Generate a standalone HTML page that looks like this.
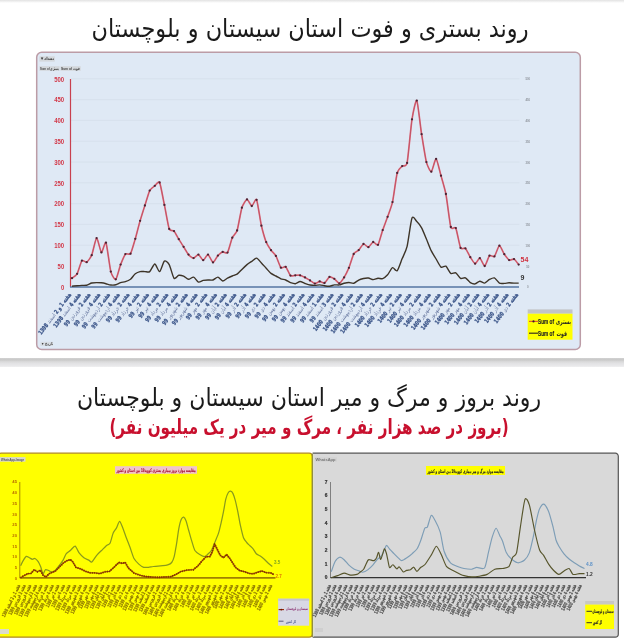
<!DOCTYPE html>
<html lang="fa"><head><meta charset="utf-8"><title>روند بستری و فوت استان سیستان و بلوچستان</title>
<style>
html,body{margin:0;padding:0;background:#fff;}
body{width:624px;height:640px;overflow:hidden;position:relative;}
.topbar{position:absolute;left:0;top:0;width:624px;height:3px;background:linear-gradient(#e2e2e2,#fff);}
.divider{position:absolute;left:0;top:358.4px;width:624px;height:8.8px;background:linear-gradient(#d2d2d2 0%,#c8c8c8 22%,#d6d6d6 34%,#e2e2e4 60%,#eaeaec 92%,#f4f4f4 100%);}
.t{position:absolute;left:0;width:624px;text-align:center;direction:rtl;white-space:nowrap;font-family:'DejaVu Sans',sans-serif;}
#t1{top:14px;left:-2px;font-size:25px;transform:scaleX(0.896);color:#1a1a1a;}
#t2{top:383px;left:-3px;font-size:24.5px;transform:scaleX(0.9);color:#1a1a1a;}
#t3{top:415px;left:-3px;font-size:20.5px;color:#c8102e;font-weight:bold;transform:scaleX(0.74);}
svg{position:absolute;left:0;top:0;}
</style></head>
<body>
<div class="topbar"></div>
<svg width="624" height="640" viewBox="0 0 624 640">
<rect x="36.7" y="52.2" width="543.6" height="297.3" rx="5" fill="#dfe9f5" stroke="#bc9ca6" stroke-width="1.5"/>
<line x1="71" x2="519.5" y1="266.0" y2="266.0" stroke="#d6e0ec" stroke-width="0.9"/>
<line x1="71" x2="519.5" y1="245.2" y2="245.2" stroke="#d6e0ec" stroke-width="0.9"/>
<line x1="71" x2="519.5" y1="224.4" y2="224.4" stroke="#d6e0ec" stroke-width="0.9"/>
<line x1="71" x2="519.5" y1="203.6" y2="203.6" stroke="#d6e0ec" stroke-width="0.9"/>
<line x1="71" x2="519.5" y1="182.8" y2="182.8" stroke="#d6e0ec" stroke-width="0.9"/>
<line x1="71" x2="519.5" y1="162.0" y2="162.0" stroke="#d6e0ec" stroke-width="0.9"/>
<line x1="71" x2="519.5" y1="141.2" y2="141.2" stroke="#d6e0ec" stroke-width="0.9"/>
<line x1="71" x2="519.5" y1="120.4" y2="120.4" stroke="#d6e0ec" stroke-width="0.9"/>
<line x1="71" x2="519.5" y1="99.6" y2="99.6" stroke="#d6e0ec" stroke-width="0.9"/>
<line x1="71" x2="519.5" y1="78.8" y2="78.8" stroke="#d6e0ec" stroke-width="0.9"/>
<rect x="39.4" y="56.3" width="15.4" height="5.3" fill="#d4d8dc"/>
<text x="40" y="60.4" font-family="'Liberation Sans',sans-serif" font-weight="bold" font-size="4.2" fill="#333">&#9660;</text>
<text x="54" y="60.4" direction="rtl" font-family="'DejaVu Sans',sans-serif" font-weight="bold" font-size="4.2" fill="#333" textLength="10" lengthAdjust="spacingAndGlyphs">تعداد</text>
<rect x="39.4" y="66.2" width="20.2" height="4.6" fill="#d4d8dc"/><rect x="60.5" y="66.2" width="20.2" height="4.6" fill="#d4d8dc"/>
<text x="40" y="69.9" font-family="'Liberation Sans',sans-serif" font-weight="bold" font-size="3.6" fill="#444" textLength="19" lengthAdjust="spacingAndGlyphs">Sum of بستری</text>
<text x="61" y="69.9" font-family="'Liberation Sans',sans-serif" font-weight="bold" font-size="3.6" fill="#444" textLength="19" lengthAdjust="spacingAndGlyphs">Sum of فوت</text>
<rect x="40.5" y="341.8" width="12.5" height="4.2" fill="#d8dde3"/>
<text x="41" y="345.2" font-family="'Liberation Sans',sans-serif" font-weight="bold" font-size="3.6" fill="#444" textLength="11.5" lengthAdjust="spacingAndGlyphs">&#9660; تاریخ</text>
<text x="64.2" y="289.5" font-family="'Liberation Sans',sans-serif" font-weight="bold" font-size="7.6" fill="#d23848" text-anchor="end" textLength="3.3" lengthAdjust="spacingAndGlyphs">0</text>
<text x="64.2" y="268.7" font-family="'Liberation Sans',sans-serif" font-weight="bold" font-size="7.6" fill="#d23848" text-anchor="end" textLength="6.6" lengthAdjust="spacingAndGlyphs">50</text>
<text x="64.2" y="247.9" font-family="'Liberation Sans',sans-serif" font-weight="bold" font-size="7.6" fill="#d23848" text-anchor="end" textLength="10.0" lengthAdjust="spacingAndGlyphs">100</text>
<text x="64.2" y="227.1" font-family="'Liberation Sans',sans-serif" font-weight="bold" font-size="7.6" fill="#d23848" text-anchor="end" textLength="10.0" lengthAdjust="spacingAndGlyphs">150</text>
<text x="64.2" y="206.3" font-family="'Liberation Sans',sans-serif" font-weight="bold" font-size="7.6" fill="#d23848" text-anchor="end" textLength="10.0" lengthAdjust="spacingAndGlyphs">200</text>
<text x="64.2" y="185.5" font-family="'Liberation Sans',sans-serif" font-weight="bold" font-size="7.6" fill="#d23848" text-anchor="end" textLength="10.0" lengthAdjust="spacingAndGlyphs">250</text>
<text x="64.2" y="164.7" font-family="'Liberation Sans',sans-serif" font-weight="bold" font-size="7.6" fill="#d23848" text-anchor="end" textLength="10.0" lengthAdjust="spacingAndGlyphs">300</text>
<text x="64.2" y="143.9" font-family="'Liberation Sans',sans-serif" font-weight="bold" font-size="7.6" fill="#d23848" text-anchor="end" textLength="10.0" lengthAdjust="spacingAndGlyphs">350</text>
<text x="64.2" y="123.1" font-family="'Liberation Sans',sans-serif" font-weight="bold" font-size="7.6" fill="#d23848" text-anchor="end" textLength="10.0" lengthAdjust="spacingAndGlyphs">400</text>
<text x="64.2" y="102.3" font-family="'Liberation Sans',sans-serif" font-weight="bold" font-size="7.6" fill="#d23848" text-anchor="end" textLength="10.0" lengthAdjust="spacingAndGlyphs">450</text>
<text x="64.2" y="81.5" font-family="'Liberation Sans',sans-serif" font-weight="bold" font-size="7.6" fill="#d23848" text-anchor="end" textLength="10.0" lengthAdjust="spacingAndGlyphs">500</text>
<text x="527.8" y="288.3" font-family="'Liberation Sans',sans-serif" font-weight="bold" font-size="4.2" fill="#8f949c" text-anchor="middle" textLength="1.6" lengthAdjust="spacingAndGlyphs">0</text>
<text x="527.8" y="267.5" font-family="'Liberation Sans',sans-serif" font-weight="bold" font-size="4.2" fill="#8f949c" text-anchor="middle" textLength="3.2" lengthAdjust="spacingAndGlyphs">50</text>
<text x="527.8" y="246.7" font-family="'Liberation Sans',sans-serif" font-weight="bold" font-size="4.2" fill="#8f949c" text-anchor="middle" textLength="4.6" lengthAdjust="spacingAndGlyphs">100</text>
<text x="527.8" y="225.9" font-family="'Liberation Sans',sans-serif" font-weight="bold" font-size="4.2" fill="#8f949c" text-anchor="middle" textLength="4.6" lengthAdjust="spacingAndGlyphs">150</text>
<text x="527.8" y="205.1" font-family="'Liberation Sans',sans-serif" font-weight="bold" font-size="4.2" fill="#8f949c" text-anchor="middle" textLength="4.6" lengthAdjust="spacingAndGlyphs">200</text>
<text x="527.8" y="184.3" font-family="'Liberation Sans',sans-serif" font-weight="bold" font-size="4.2" fill="#8f949c" text-anchor="middle" textLength="4.6" lengthAdjust="spacingAndGlyphs">250</text>
<text x="527.8" y="163.5" font-family="'Liberation Sans',sans-serif" font-weight="bold" font-size="4.2" fill="#8f949c" text-anchor="middle" textLength="4.6" lengthAdjust="spacingAndGlyphs">300</text>
<text x="527.8" y="142.7" font-family="'Liberation Sans',sans-serif" font-weight="bold" font-size="4.2" fill="#8f949c" text-anchor="middle" textLength="4.6" lengthAdjust="spacingAndGlyphs">350</text>
<text x="527.8" y="121.9" font-family="'Liberation Sans',sans-serif" font-weight="bold" font-size="4.2" fill="#8f949c" text-anchor="middle" textLength="4.6" lengthAdjust="spacingAndGlyphs">400</text>
<text x="527.8" y="101.1" font-family="'Liberation Sans',sans-serif" font-weight="bold" font-size="4.2" fill="#8f949c" text-anchor="middle" textLength="4.6" lengthAdjust="spacingAndGlyphs">450</text>
<text x="527.8" y="80.3" font-family="'Liberation Sans',sans-serif" font-weight="bold" font-size="4.2" fill="#8f949c" text-anchor="middle" textLength="4.6" lengthAdjust="spacingAndGlyphs">500</text>
<line x1="70.5" x2="70.5" y1="79" y2="287" stroke="#c8404e" stroke-width="1.2"/>
<line x1="70" x2="519" y1="287" y2="287" stroke="#5574a2" stroke-width="1.4"/>
<path d="M72.0 286.3 C72.6 286.2 75.9 285.9 77.1 285.8 C78.3 285.7 80.7 285.5 81.9 285.4 C83.1 285.3 85.5 285.5 86.7 285.2 C87.9 284.9 90.5 283.3 91.7 283.0 C92.9 282.7 95.4 282.6 96.6 282.6 C97.8 282.6 100.3 282.7 101.4 282.8 C102.5 282.9 104.9 283.4 106.0 283.7 C107.1 284.0 109.6 284.9 110.8 285.0 C112.0 285.1 114.6 285.1 115.8 284.8 C117.0 284.5 119.4 283.0 120.6 282.6 C121.8 282.2 124.2 282.1 125.4 281.7 C126.6 281.3 129.3 280.2 130.5 279.3 C131.7 278.4 134.1 274.7 135.3 273.8 C136.5 272.9 138.9 271.9 140.1 271.6 C141.3 271.3 143.7 271.6 144.9 271.6 C146.1 271.6 148.5 272.5 149.7 271.6 C150.9 270.7 153.6 264.0 154.8 264.0 C156.0 264.0 158.4 271.9 159.6 271.6 C160.8 271.3 163.2 261.9 164.4 261.1 C165.6 260.3 168.0 262.5 169.2 264.6 C170.4 266.7 172.8 276.9 174.0 278.2 C175.2 279.5 177.6 275.5 178.8 275.3 C180.0 275.1 182.4 275.7 183.6 276.2 C184.8 276.7 187.3 279.2 188.5 279.3 C189.7 279.4 192.4 276.8 193.6 277.1 C194.8 277.4 197.2 281.7 198.4 282.1 C199.6 282.5 202.0 280.7 203.2 280.4 C204.4 280.1 206.8 280.0 208.0 280.0 C209.2 280.0 211.8 280.3 213.0 280.0 C214.2 279.7 216.7 277.0 217.9 277.1 C219.1 277.2 221.5 280.9 222.7 281.0 C223.9 281.1 226.3 278.8 227.5 278.2 C228.7 277.6 231.1 276.5 232.3 276.0 C233.5 275.5 235.9 275.0 237.1 274.2 C238.3 273.4 240.7 270.6 241.9 269.4 C243.1 268.2 245.8 265.6 247.0 264.6 C248.2 263.6 250.6 262.1 251.8 261.3 C253.0 260.5 255.4 257.9 256.6 258.1 C257.8 258.3 260.2 261.7 261.4 262.9 C262.6 264.1 265.0 267.0 266.2 268.3 C267.4 269.6 269.8 272.5 271.0 273.4 C272.2 274.3 274.7 275.4 275.9 276.0 C277.1 276.6 279.7 278.3 280.9 278.8 C282.1 279.3 284.5 279.5 285.7 280.0 C286.9 280.5 289.3 282.2 290.5 282.6 C291.7 283.0 294.1 283.8 295.3 283.7 C296.5 283.6 298.9 281.5 300.1 281.5 C301.3 281.5 303.8 283.1 305.0 283.5 C306.2 283.9 308.8 284.8 310.0 285.0 C311.2 285.2 313.7 285.4 314.9 285.4 C316.1 285.4 318.5 284.9 319.7 284.9 C320.9 284.9 323.3 285.5 324.5 285.7 C325.7 285.9 328.3 286.3 329.5 286.2 C330.7 286.1 333.1 285.1 334.3 284.9 C335.5 284.7 338.1 285.1 339.3 284.9 C340.5 284.7 342.9 283.6 344.1 283.3 C345.3 283.0 347.7 282.5 348.9 282.5 C350.1 282.5 352.5 283.6 353.7 283.3 C354.9 283.0 357.5 280.7 358.7 280.1 C359.9 279.5 362.3 278.8 363.5 278.5 C364.7 278.2 367.2 277.9 368.4 278.0 C369.6 278.1 372.0 279.6 373.2 279.6 C374.4 279.6 376.9 278.3 378.0 278.2 C379.1 278.1 381.5 279.1 382.7 278.7 C383.9 278.3 386.4 276.1 387.6 274.8 C388.8 273.5 391.3 268.1 392.5 267.6 C393.7 267.1 396.0 271.8 397.2 270.7 C398.4 269.6 401.0 261.5 402.2 258.6 C403.4 255.7 405.9 251.3 407.1 246.4 C408.3 241.5 410.8 221.0 412.0 218.0 C413.2 215.0 415.6 220.4 416.8 221.6 C418.0 222.8 420.4 225.7 421.6 227.8 C422.8 229.9 425.2 236.2 426.4 239.0 C427.6 241.8 430.1 248.5 431.3 250.9 C432.5 253.3 434.9 257.1 436.1 259.0 C437.3 260.9 439.8 266.2 441.0 267.1 C442.2 268.0 444.7 265.4 445.9 266.2 C447.1 267.0 449.6 272.6 450.8 273.4 C452.0 274.2 454.6 272.2 455.8 272.8 C457.0 273.4 459.4 277.8 460.6 278.4 C461.8 279.0 464.2 277.3 465.4 277.8 C466.6 278.3 469.1 281.9 470.3 282.6 C471.5 283.3 474.0 284.1 475.1 283.9 C476.2 283.7 478.6 281.4 479.8 281.3 C481.0 281.2 483.5 283.3 484.7 283.1 C485.9 282.9 488.3 280.0 489.5 279.4 C490.7 278.8 493.2 277.5 494.4 277.9 C495.6 278.3 498.2 282.4 499.4 283.1 C500.6 283.8 503.1 283.4 504.3 283.4 C505.5 283.4 507.9 282.8 509.1 282.8 C510.3 282.8 512.8 283.1 514.0 283.1 C515.2 283.1 518.1 283.1 518.7 283.1" fill="none" stroke="#3d3428" stroke-width="1.4" stroke-linejoin="round"/>
<path d="M72.0 278.2 C72.5 277.8 76.1 275.6 77.1 273.8 C78.1 272.1 80.9 261.9 81.9 260.7 C82.9 259.5 85.7 262.8 86.7 262.2 C87.7 261.6 90.7 257.6 91.7 255.2 C92.7 252.8 95.6 238.4 96.6 238.1 C97.6 237.8 100.5 251.9 101.4 252.4 C102.3 252.9 105.1 240.8 106.0 242.7 C106.9 244.6 109.8 267.9 110.8 271.6 C111.8 275.3 114.8 280.0 115.8 279.3 C116.8 278.6 119.6 267.1 120.6 264.6 C121.6 262.1 124.4 255.2 125.4 254.1 C126.4 253.0 129.5 255.2 130.5 253.7 C131.5 252.2 134.3 242.1 135.3 238.8 C136.3 235.5 139.1 224.1 140.1 220.8 C141.1 217.5 143.9 208.5 144.9 205.5 C145.9 202.5 148.7 192.6 149.7 190.6 C150.7 188.6 153.8 186.6 154.8 185.8 C155.8 185.0 158.6 180.6 159.6 182.5 C160.6 184.4 163.4 200.3 164.4 204.9 C165.4 209.5 168.2 226.3 169.2 228.9 C170.2 231.5 173.0 230.1 174.0 231.1 C175.0 232.1 177.8 237.6 178.8 239.2 C179.8 240.8 182.6 245.3 183.6 246.8 C184.6 248.3 187.5 253.5 188.5 254.6 C189.5 255.7 192.6 258.1 193.6 258.1 C194.6 258.1 197.4 254.4 198.4 254.6 C199.4 254.8 202.2 260.2 203.2 260.2 C204.2 260.2 207.0 254.4 208.0 254.6 C209.0 254.8 212.0 262.3 213.0 262.4 C214.0 262.5 216.9 256.6 217.9 255.6 C218.9 254.6 221.7 252.2 222.7 251.9 C223.7 251.6 226.5 254.0 227.5 252.6 C228.5 251.2 231.3 239.9 232.3 237.7 C233.3 235.5 236.1 233.5 237.1 230.5 C238.1 227.5 240.9 210.8 241.9 207.7 C242.9 204.6 246.0 199.6 247.0 199.4 C248.0 199.2 250.8 206.0 251.8 206.0 C252.8 206.0 255.6 197.8 256.6 199.8 C257.6 201.8 260.4 221.5 261.4 225.7 C262.4 229.9 265.2 239.7 266.2 242.1 C267.2 244.5 270.0 248.8 271.0 250.2 C272.0 251.6 274.9 254.2 275.9 255.9 C276.9 257.6 279.9 266.6 280.9 267.7 C281.9 268.8 284.7 266.0 285.7 266.8 C286.7 267.6 289.5 274.8 290.5 275.6 C291.5 276.5 294.3 275.3 295.3 275.3 C296.3 275.3 299.1 275.1 300.1 275.3 C301.1 275.5 304.0 276.9 305.0 277.4 C306.0 277.9 309.0 279.8 310.0 280.4 C311.0 281.0 313.9 283.5 314.9 283.6 C315.9 283.7 318.7 281.5 319.7 281.4 C320.7 281.3 323.5 283.4 324.5 283.0 C325.5 282.6 328.5 277.3 329.5 276.9 C330.5 276.5 333.3 278.2 334.3 278.8 C335.3 279.4 338.3 283.4 339.3 283.3 C340.3 283.2 343.1 278.9 344.1 277.4 C345.1 275.8 347.9 270.1 348.9 267.8 C349.9 265.5 352.7 255.8 353.7 254.0 C354.7 252.2 357.7 251.1 358.7 250.1 C359.7 249.1 362.5 244.3 363.5 244.0 C364.5 243.7 367.4 247.4 368.4 247.2 C369.4 247.0 372.2 242.2 373.2 242.0 C374.2 241.8 377.1 246.0 378.0 244.8 C378.9 243.6 381.7 232.9 382.7 230.1 C383.7 227.3 386.6 219.6 387.6 216.8 C388.6 214.0 391.5 206.5 392.5 202.1 C393.5 197.7 396.2 176.5 397.2 172.9 C398.2 169.3 401.2 167.1 402.2 166.1 C403.2 165.1 406.1 167.6 407.1 162.9 C408.1 158.2 411.0 125.5 412.0 119.3 C413.0 113.1 415.8 99.1 416.8 100.6 C417.8 102.1 420.6 128.0 421.6 134.2 C422.6 140.3 425.4 158.3 426.4 162.1 C427.4 165.8 430.3 172.0 431.3 171.7 C432.3 171.4 435.1 158.5 436.1 158.9 C437.1 159.3 440.0 172.2 441.0 175.7 C442.0 179.2 444.9 188.9 445.9 194.0 C446.9 199.1 449.8 223.6 450.8 227.0 C451.8 230.4 454.8 226.0 455.8 228.1 C456.8 230.2 459.6 245.9 460.6 247.9 C461.6 249.9 464.4 247.5 465.4 248.4 C466.4 249.3 469.3 255.7 470.3 257.2 C471.3 258.7 474.2 263.6 475.1 263.7 C476.1 263.8 478.8 258.0 479.8 258.2 C480.8 258.4 483.7 266.2 484.7 266.0 C485.7 265.8 488.5 256.7 489.5 255.7 C490.5 254.7 493.4 257.4 494.4 256.4 C495.4 255.4 498.4 245.9 499.4 245.7 C500.4 245.5 503.3 252.8 504.3 254.2 C505.3 255.6 508.1 259.6 509.1 260.1 C510.1 260.6 513.0 258.7 514.0 259.1 C515.0 259.6 518.2 264.1 518.7 264.6" fill="none" stroke="#e4707f" stroke-width="1.7" stroke-linejoin="round"/>
<path d="M72.0 278.2 C72.5 277.8 76.1 275.6 77.1 273.8 C78.1 272.1 80.9 261.9 81.9 260.7 C82.9 259.5 85.7 262.8 86.7 262.2 C87.7 261.6 90.7 257.6 91.7 255.2 C92.7 252.8 95.6 238.4 96.6 238.1 C97.6 237.8 100.5 251.9 101.4 252.4 C102.3 252.9 105.1 240.8 106.0 242.7 C106.9 244.6 109.8 267.9 110.8 271.6 C111.8 275.3 114.8 280.0 115.8 279.3 C116.8 278.6 119.6 267.1 120.6 264.6 C121.6 262.1 124.4 255.2 125.4 254.1 C126.4 253.0 129.5 255.2 130.5 253.7 C131.5 252.2 134.3 242.1 135.3 238.8 C136.3 235.5 139.1 224.1 140.1 220.8 C141.1 217.5 143.9 208.5 144.9 205.5 C145.9 202.5 148.7 192.6 149.7 190.6 C150.7 188.6 153.8 186.6 154.8 185.8 C155.8 185.0 158.6 180.6 159.6 182.5 C160.6 184.4 163.4 200.3 164.4 204.9 C165.4 209.5 168.2 226.3 169.2 228.9 C170.2 231.5 173.0 230.1 174.0 231.1 C175.0 232.1 177.8 237.6 178.8 239.2 C179.8 240.8 182.6 245.3 183.6 246.8 C184.6 248.3 187.5 253.5 188.5 254.6 C189.5 255.7 192.6 258.1 193.6 258.1 C194.6 258.1 197.4 254.4 198.4 254.6 C199.4 254.8 202.2 260.2 203.2 260.2 C204.2 260.2 207.0 254.4 208.0 254.6 C209.0 254.8 212.0 262.3 213.0 262.4 C214.0 262.5 216.9 256.6 217.9 255.6 C218.9 254.6 221.7 252.2 222.7 251.9 C223.7 251.6 226.5 254.0 227.5 252.6 C228.5 251.2 231.3 239.9 232.3 237.7 C233.3 235.5 236.1 233.5 237.1 230.5 C238.1 227.5 240.9 210.8 241.9 207.7 C242.9 204.6 246.0 199.6 247.0 199.4 C248.0 199.2 250.8 206.0 251.8 206.0 C252.8 206.0 255.6 197.8 256.6 199.8 C257.6 201.8 260.4 221.5 261.4 225.7 C262.4 229.9 265.2 239.7 266.2 242.1 C267.2 244.5 270.0 248.8 271.0 250.2 C272.0 251.6 274.9 254.2 275.9 255.9 C276.9 257.6 279.9 266.6 280.9 267.7 C281.9 268.8 284.7 266.0 285.7 266.8 C286.7 267.6 289.5 274.8 290.5 275.6 C291.5 276.5 294.3 275.3 295.3 275.3 C296.3 275.3 299.1 275.1 300.1 275.3 C301.1 275.5 304.0 276.9 305.0 277.4 C306.0 277.9 309.0 279.8 310.0 280.4 C311.0 281.0 313.9 283.5 314.9 283.6 C315.9 283.7 318.7 281.5 319.7 281.4 C320.7 281.3 323.5 283.4 324.5 283.0 C325.5 282.6 328.5 277.3 329.5 276.9 C330.5 276.5 333.3 278.2 334.3 278.8 C335.3 279.4 338.3 283.4 339.3 283.3 C340.3 283.2 343.1 278.9 344.1 277.4 C345.1 275.8 347.9 270.1 348.9 267.8 C349.9 265.5 352.7 255.8 353.7 254.0 C354.7 252.2 357.7 251.1 358.7 250.1 C359.7 249.1 362.5 244.3 363.5 244.0 C364.5 243.7 367.4 247.4 368.4 247.2 C369.4 247.0 372.2 242.2 373.2 242.0 C374.2 241.8 377.1 246.0 378.0 244.8 C378.9 243.6 381.7 232.9 382.7 230.1 C383.7 227.3 386.6 219.6 387.6 216.8 C388.6 214.0 391.5 206.5 392.5 202.1 C393.5 197.7 396.2 176.5 397.2 172.9 C398.2 169.3 401.2 167.1 402.2 166.1 C403.2 165.1 406.1 167.6 407.1 162.9 C408.1 158.2 411.0 125.5 412.0 119.3 C413.0 113.1 415.8 99.1 416.8 100.6 C417.8 102.1 420.6 128.0 421.6 134.2 C422.6 140.3 425.4 158.3 426.4 162.1 C427.4 165.8 430.3 172.0 431.3 171.7 C432.3 171.4 435.1 158.5 436.1 158.9 C437.1 159.3 440.0 172.2 441.0 175.7 C442.0 179.2 444.9 188.9 445.9 194.0 C446.9 199.1 449.8 223.6 450.8 227.0 C451.8 230.4 454.8 226.0 455.8 228.1 C456.8 230.2 459.6 245.9 460.6 247.9 C461.6 249.9 464.4 247.5 465.4 248.4 C466.4 249.3 469.3 255.7 470.3 257.2 C471.3 258.7 474.2 263.6 475.1 263.7 C476.1 263.8 478.8 258.0 479.8 258.2 C480.8 258.4 483.7 266.2 484.7 266.0 C485.7 265.8 488.5 256.7 489.5 255.7 C490.5 254.7 493.4 257.4 494.4 256.4 C495.4 255.4 498.4 245.9 499.4 245.7 C500.4 245.5 503.3 252.8 504.3 254.2 C505.3 255.6 508.1 259.6 509.1 260.1 C510.1 260.6 513.0 258.7 514.0 259.1 C515.0 259.6 518.2 264.1 518.7 264.6" fill="none" stroke="#a03a50" stroke-width="0.55" stroke-linejoin="round"/>
<circle cx="72.0" cy="278.2" r="1.15" fill="#4a2434"/>
<circle cx="77.1" cy="273.8" r="1.15" fill="#4a2434"/>
<circle cx="81.9" cy="260.7" r="1.15" fill="#4a2434"/>
<circle cx="86.7" cy="262.2" r="1.15" fill="#4a2434"/>
<circle cx="91.7" cy="255.2" r="1.15" fill="#4a2434"/>
<circle cx="96.6" cy="238.1" r="1.15" fill="#4a2434"/>
<circle cx="101.4" cy="252.4" r="1.15" fill="#4a2434"/>
<circle cx="106.0" cy="242.7" r="1.15" fill="#4a2434"/>
<circle cx="110.8" cy="271.6" r="1.15" fill="#4a2434"/>
<circle cx="115.8" cy="279.3" r="1.15" fill="#4a2434"/>
<circle cx="120.6" cy="264.6" r="1.15" fill="#4a2434"/>
<circle cx="125.4" cy="254.1" r="1.15" fill="#4a2434"/>
<circle cx="130.5" cy="253.7" r="1.15" fill="#4a2434"/>
<circle cx="135.3" cy="238.8" r="1.15" fill="#4a2434"/>
<circle cx="140.1" cy="220.8" r="1.15" fill="#4a2434"/>
<circle cx="144.9" cy="205.5" r="1.15" fill="#4a2434"/>
<circle cx="149.7" cy="190.6" r="1.15" fill="#4a2434"/>
<circle cx="154.8" cy="185.8" r="1.15" fill="#4a2434"/>
<circle cx="159.6" cy="182.5" r="1.15" fill="#4a2434"/>
<circle cx="164.4" cy="204.9" r="1.15" fill="#4a2434"/>
<circle cx="169.2" cy="228.9" r="1.15" fill="#4a2434"/>
<circle cx="174.0" cy="231.1" r="1.15" fill="#4a2434"/>
<circle cx="178.8" cy="239.2" r="1.15" fill="#4a2434"/>
<circle cx="183.6" cy="246.8" r="1.15" fill="#4a2434"/>
<circle cx="188.5" cy="254.6" r="1.15" fill="#4a2434"/>
<circle cx="193.6" cy="258.1" r="1.15" fill="#4a2434"/>
<circle cx="198.4" cy="254.6" r="1.15" fill="#4a2434"/>
<circle cx="203.2" cy="260.2" r="1.15" fill="#4a2434"/>
<circle cx="208.0" cy="254.6" r="1.15" fill="#4a2434"/>
<circle cx="213.0" cy="262.4" r="1.15" fill="#4a2434"/>
<circle cx="217.9" cy="255.6" r="1.15" fill="#4a2434"/>
<circle cx="222.7" cy="251.9" r="1.15" fill="#4a2434"/>
<circle cx="227.5" cy="252.6" r="1.15" fill="#4a2434"/>
<circle cx="232.3" cy="237.7" r="1.15" fill="#4a2434"/>
<circle cx="237.1" cy="230.5" r="1.15" fill="#4a2434"/>
<circle cx="241.9" cy="207.7" r="1.15" fill="#4a2434"/>
<circle cx="247.0" cy="199.4" r="1.15" fill="#4a2434"/>
<circle cx="251.8" cy="206.0" r="1.15" fill="#4a2434"/>
<circle cx="256.6" cy="199.8" r="1.15" fill="#4a2434"/>
<circle cx="261.4" cy="225.7" r="1.15" fill="#4a2434"/>
<circle cx="266.2" cy="242.1" r="1.15" fill="#4a2434"/>
<circle cx="271.0" cy="250.2" r="1.15" fill="#4a2434"/>
<circle cx="275.9" cy="255.9" r="1.15" fill="#4a2434"/>
<circle cx="280.9" cy="267.7" r="1.15" fill="#4a2434"/>
<circle cx="285.7" cy="266.8" r="1.15" fill="#4a2434"/>
<circle cx="290.5" cy="275.6" r="1.15" fill="#4a2434"/>
<circle cx="295.3" cy="275.3" r="1.15" fill="#4a2434"/>
<circle cx="300.1" cy="275.3" r="1.15" fill="#4a2434"/>
<circle cx="305.0" cy="277.4" r="1.15" fill="#4a2434"/>
<circle cx="310.0" cy="280.4" r="1.15" fill="#4a2434"/>
<circle cx="314.9" cy="283.6" r="1.15" fill="#4a2434"/>
<circle cx="319.7" cy="281.4" r="1.15" fill="#4a2434"/>
<circle cx="324.5" cy="283.0" r="1.15" fill="#4a2434"/>
<circle cx="329.5" cy="276.9" r="1.15" fill="#4a2434"/>
<circle cx="334.3" cy="278.8" r="1.15" fill="#4a2434"/>
<circle cx="339.3" cy="283.3" r="1.15" fill="#4a2434"/>
<circle cx="344.1" cy="277.4" r="1.15" fill="#4a2434"/>
<circle cx="348.9" cy="267.8" r="1.15" fill="#4a2434"/>
<circle cx="353.7" cy="254.0" r="1.15" fill="#4a2434"/>
<circle cx="358.7" cy="250.1" r="1.15" fill="#4a2434"/>
<circle cx="363.5" cy="244.0" r="1.15" fill="#4a2434"/>
<circle cx="368.4" cy="247.2" r="1.15" fill="#4a2434"/>
<circle cx="373.2" cy="242.0" r="1.15" fill="#4a2434"/>
<circle cx="378.0" cy="244.8" r="1.15" fill="#4a2434"/>
<circle cx="382.7" cy="230.1" r="1.15" fill="#4a2434"/>
<circle cx="387.6" cy="216.8" r="1.15" fill="#4a2434"/>
<circle cx="392.5" cy="202.1" r="1.15" fill="#4a2434"/>
<circle cx="397.2" cy="172.9" r="1.15" fill="#4a2434"/>
<circle cx="402.2" cy="166.1" r="1.15" fill="#4a2434"/>
<circle cx="407.1" cy="162.9" r="1.15" fill="#4a2434"/>
<circle cx="412.0" cy="119.3" r="1.15" fill="#4a2434"/>
<circle cx="416.8" cy="100.6" r="1.15" fill="#4a2434"/>
<circle cx="421.6" cy="134.2" r="1.15" fill="#4a2434"/>
<circle cx="426.4" cy="162.1" r="1.15" fill="#4a2434"/>
<circle cx="431.3" cy="171.7" r="1.15" fill="#4a2434"/>
<circle cx="436.1" cy="158.9" r="1.15" fill="#4a2434"/>
<circle cx="441.0" cy="175.7" r="1.15" fill="#4a2434"/>
<circle cx="445.9" cy="194.0" r="1.15" fill="#4a2434"/>
<circle cx="450.8" cy="227.0" r="1.15" fill="#4a2434"/>
<circle cx="455.8" cy="228.1" r="1.15" fill="#4a2434"/>
<circle cx="460.6" cy="247.9" r="1.15" fill="#4a2434"/>
<circle cx="465.4" cy="248.4" r="1.15" fill="#4a2434"/>
<circle cx="470.3" cy="257.2" r="1.15" fill="#4a2434"/>
<circle cx="475.1" cy="263.7" r="1.15" fill="#4a2434"/>
<circle cx="479.8" cy="258.2" r="1.15" fill="#4a2434"/>
<circle cx="484.7" cy="266.0" r="1.15" fill="#4a2434"/>
<circle cx="489.5" cy="255.7" r="1.15" fill="#4a2434"/>
<circle cx="494.4" cy="256.4" r="1.15" fill="#4a2434"/>
<circle cx="499.4" cy="245.7" r="1.15" fill="#4a2434"/>
<circle cx="504.3" cy="254.2" r="1.15" fill="#4a2434"/>
<circle cx="509.1" cy="260.1" r="1.15" fill="#4a2434"/>
<circle cx="514.0" cy="259.1" r="1.15" fill="#4a2434"/>
<circle cx="518.7" cy="264.6" r="1.15" fill="#4a2434"/>
<text x="520.5" y="262" font-family="'Liberation Sans',sans-serif" font-weight="bold" font-size="7" fill="#d0303e">54</text>
<text x="520.5" y="279.5" font-family="'Liberation Sans',sans-serif" font-weight="bold" font-size="7" fill="#333">9</text>
<text transform="translate(71.5 294.8) rotate(-53) scale(0.75 1)" direction="rtl" font-family="'DejaVu Sans',sans-serif" font-weight="bold" font-size="5.9" fill="#3a5488" stroke="#3a5488" stroke-width="0.3">هفته 1 و 2 <tspan font-weight="normal" stroke="none" fill="#6878a0">اسفند</tspan> 1398</text>
<text transform="translate(81.2 294.8) rotate(-53) scale(0.75 1)" direction="rtl" font-family="'DejaVu Sans',sans-serif" font-weight="bold" font-size="5.9" fill="#3a5488" stroke="#3a5488" stroke-width="0.3">هفته 4 <tspan font-weight="normal" stroke="none" fill="#6878a0">اسفند</tspan> 1398</text>
<text transform="translate(90.9 294.8) rotate(-53) scale(0.75 1)" direction="rtl" font-family="'DejaVu Sans',sans-serif" font-weight="bold" font-size="5.9" fill="#3a5488" stroke="#3a5488" stroke-width="0.3">هفته 2 <tspan font-weight="normal" stroke="none" fill="#6878a0">فروردین</tspan> 99</text>
<text transform="translate(100.7 294.8) rotate(-53) scale(0.75 1)" direction="rtl" font-family="'DejaVu Sans',sans-serif" font-weight="bold" font-size="5.9" fill="#3a5488" stroke="#3a5488" stroke-width="0.3">هفته 4 <tspan font-weight="normal" stroke="none" fill="#6878a0">فروردین</tspan> 99</text>
<text transform="translate(110.4 294.8) rotate(-53) scale(0.75 1)" direction="rtl" font-family="'DejaVu Sans',sans-serif" font-weight="bold" font-size="5.9" fill="#3a5488" stroke="#3a5488" stroke-width="0.3">هفته 2 <tspan font-weight="normal" stroke="none" fill="#6878a0">اردیبهشت</tspan> 99</text>
<text transform="translate(120.1 294.8) rotate(-53) scale(0.75 1)" direction="rtl" font-family="'DejaVu Sans',sans-serif" font-weight="bold" font-size="5.9" fill="#3a5488" stroke="#3a5488" stroke-width="0.3">هفته 4 <tspan font-weight="normal" stroke="none" fill="#6878a0">اردیبهشت</tspan> 99</text>
<text transform="translate(129.8 294.8) rotate(-53) scale(0.75 1)" direction="rtl" font-family="'DejaVu Sans',sans-serif" font-weight="bold" font-size="5.9" fill="#3a5488" stroke="#3a5488" stroke-width="0.3">هفته 2 <tspan font-weight="normal" stroke="none" fill="#6878a0">خرداد</tspan> 99</text>
<text transform="translate(139.5 294.8) rotate(-53) scale(0.75 1)" direction="rtl" font-family="'DejaVu Sans',sans-serif" font-weight="bold" font-size="5.9" fill="#3a5488" stroke="#3a5488" stroke-width="0.3">هفته 4 <tspan font-weight="normal" stroke="none" fill="#6878a0">خرداد</tspan> 99</text>
<text transform="translate(149.3 294.8) rotate(-53) scale(0.75 1)" direction="rtl" font-family="'DejaVu Sans',sans-serif" font-weight="bold" font-size="5.9" fill="#3a5488" stroke="#3a5488" stroke-width="0.3">هفته 2 <tspan font-weight="normal" stroke="none" fill="#6878a0">تیر</tspan> 99</text>
<text transform="translate(159.0 294.8) rotate(-53) scale(0.75 1)" direction="rtl" font-family="'DejaVu Sans',sans-serif" font-weight="bold" font-size="5.9" fill="#3a5488" stroke="#3a5488" stroke-width="0.3">هفته 4 <tspan font-weight="normal" stroke="none" fill="#6878a0">تیر</tspan> 99</text>
<text transform="translate(168.7 294.8) rotate(-53) scale(0.75 1)" direction="rtl" font-family="'DejaVu Sans',sans-serif" font-weight="bold" font-size="5.9" fill="#3a5488" stroke="#3a5488" stroke-width="0.3">هفته 2 <tspan font-weight="normal" stroke="none" fill="#6878a0">مرداد</tspan> 99</text>
<text transform="translate(178.4 294.8) rotate(-53) scale(0.75 1)" direction="rtl" font-family="'DejaVu Sans',sans-serif" font-weight="bold" font-size="5.9" fill="#3a5488" stroke="#3a5488" stroke-width="0.3">هفته 4 <tspan font-weight="normal" stroke="none" fill="#6878a0">مرداد</tspan> 99</text>
<text transform="translate(188.1 294.8) rotate(-53) scale(0.75 1)" direction="rtl" font-family="'DejaVu Sans',sans-serif" font-weight="bold" font-size="5.9" fill="#3a5488" stroke="#3a5488" stroke-width="0.3">هفته 2 <tspan font-weight="normal" stroke="none" fill="#6878a0">شهریور</tspan> 99</text>
<text transform="translate(197.9 294.8) rotate(-53) scale(0.75 1)" direction="rtl" font-family="'DejaVu Sans',sans-serif" font-weight="bold" font-size="5.9" fill="#3a5488" stroke="#3a5488" stroke-width="0.3">هفته 4 <tspan font-weight="normal" stroke="none" fill="#6878a0">شهریور</tspan> 99</text>
<text transform="translate(207.6 294.8) rotate(-53) scale(0.75 1)" direction="rtl" font-family="'DejaVu Sans',sans-serif" font-weight="bold" font-size="5.9" fill="#3a5488" stroke="#3a5488" stroke-width="0.3">هفته 2 <tspan font-weight="normal" stroke="none" fill="#6878a0">مهر</tspan> 99</text>
<text transform="translate(217.3 294.8) rotate(-53) scale(0.75 1)" direction="rtl" font-family="'DejaVu Sans',sans-serif" font-weight="bold" font-size="5.9" fill="#3a5488" stroke="#3a5488" stroke-width="0.3">هفته 4 <tspan font-weight="normal" stroke="none" fill="#6878a0">مهر</tspan> 99</text>
<text transform="translate(227.0 294.8) rotate(-53) scale(0.75 1)" direction="rtl" font-family="'DejaVu Sans',sans-serif" font-weight="bold" font-size="5.9" fill="#3a5488" stroke="#3a5488" stroke-width="0.3">هفته 2 <tspan font-weight="normal" stroke="none" fill="#6878a0">آبان</tspan> 99</text>
<text transform="translate(236.7 294.8) rotate(-53) scale(0.75 1)" direction="rtl" font-family="'DejaVu Sans',sans-serif" font-weight="bold" font-size="5.9" fill="#3a5488" stroke="#3a5488" stroke-width="0.3">هفته 4 <tspan font-weight="normal" stroke="none" fill="#6878a0">آبان</tspan> 99</text>
<text transform="translate(246.5 294.8) rotate(-53) scale(0.75 1)" direction="rtl" font-family="'DejaVu Sans',sans-serif" font-weight="bold" font-size="5.9" fill="#3a5488" stroke="#3a5488" stroke-width="0.3">هفته 2 <tspan font-weight="normal" stroke="none" fill="#6878a0">آذر</tspan> 99</text>
<text transform="translate(256.2 294.8) rotate(-53) scale(0.75 1)" direction="rtl" font-family="'DejaVu Sans',sans-serif" font-weight="bold" font-size="5.9" fill="#3a5488" stroke="#3a5488" stroke-width="0.3">هفته 4 <tspan font-weight="normal" stroke="none" fill="#6878a0">آذر</tspan> 99</text>
<text transform="translate(265.9 294.8) rotate(-53) scale(0.75 1)" direction="rtl" font-family="'DejaVu Sans',sans-serif" font-weight="bold" font-size="5.9" fill="#3a5488" stroke="#3a5488" stroke-width="0.3">هفته 2 <tspan font-weight="normal" stroke="none" fill="#6878a0">دی</tspan> 99</text>
<text transform="translate(275.6 294.8) rotate(-53) scale(0.75 1)" direction="rtl" font-family="'DejaVu Sans',sans-serif" font-weight="bold" font-size="5.9" fill="#3a5488" stroke="#3a5488" stroke-width="0.3">هفته 4 <tspan font-weight="normal" stroke="none" fill="#6878a0">دی</tspan> 99</text>
<text transform="translate(285.3 294.8) rotate(-53) scale(0.75 1)" direction="rtl" font-family="'DejaVu Sans',sans-serif" font-weight="bold" font-size="5.9" fill="#3a5488" stroke="#3a5488" stroke-width="0.3">هفته 2 <tspan font-weight="normal" stroke="none" fill="#6878a0">بهمن</tspan> 99</text>
<text transform="translate(295.1 294.8) rotate(-53) scale(0.75 1)" direction="rtl" font-family="'DejaVu Sans',sans-serif" font-weight="bold" font-size="5.9" fill="#3a5488" stroke="#3a5488" stroke-width="0.3">هفته 4 <tspan font-weight="normal" stroke="none" fill="#6878a0">بهمن</tspan> 99</text>
<text transform="translate(304.8 294.8) rotate(-53) scale(0.75 1)" direction="rtl" font-family="'DejaVu Sans',sans-serif" font-weight="bold" font-size="5.9" fill="#3a5488" stroke="#3a5488" stroke-width="0.3">هفته 2 <tspan font-weight="normal" stroke="none" fill="#6878a0">اسفند</tspan> 99</text>
<text transform="translate(314.5 294.8) rotate(-53) scale(0.75 1)" direction="rtl" font-family="'DejaVu Sans',sans-serif" font-weight="bold" font-size="5.9" fill="#3a5488" stroke="#3a5488" stroke-width="0.3">هفته 4 <tspan font-weight="normal" stroke="none" fill="#6878a0">اسفند</tspan> 99</text>
<text transform="translate(324.2 294.8) rotate(-53) scale(0.75 1)" direction="rtl" font-family="'DejaVu Sans',sans-serif" font-weight="bold" font-size="5.9" fill="#3a5488" stroke="#3a5488" stroke-width="0.3">هفته 1 <tspan font-weight="normal" stroke="none" fill="#6878a0">اسفند</tspan> 99</text>
<text transform="translate(333.9 294.8) rotate(-53) scale(0.75 1)" direction="rtl" font-family="'DejaVu Sans',sans-serif" font-weight="bold" font-size="5.9" fill="#3a5488" stroke="#3a5488" stroke-width="0.3">هفته 3 <tspan font-weight="normal" stroke="none" fill="#6878a0">اسفند</tspan> 99</text>
<text transform="translate(343.7 294.8) rotate(-53) scale(0.75 1)" direction="rtl" font-family="'DejaVu Sans',sans-serif" font-weight="bold" font-size="5.9" fill="#3a5488" stroke="#3a5488" stroke-width="0.3">هفته 2 <tspan font-weight="normal" stroke="none" fill="#6878a0">فروردین</tspan> 1400</text>
<text transform="translate(353.4 294.8) rotate(-53) scale(0.75 1)" direction="rtl" font-family="'DejaVu Sans',sans-serif" font-weight="bold" font-size="5.9" fill="#3a5488" stroke="#3a5488" stroke-width="0.3">هفته 4 <tspan font-weight="normal" stroke="none" fill="#6878a0">فروردین</tspan> 1400</text>
<text transform="translate(363.1 294.8) rotate(-53) scale(0.75 1)" direction="rtl" font-family="'DejaVu Sans',sans-serif" font-weight="bold" font-size="5.9" fill="#3a5488" stroke="#3a5488" stroke-width="0.3">هفته 2 <tspan font-weight="normal" stroke="none" fill="#6878a0">اردیبهشت</tspan> 1400</text>
<text transform="translate(372.8 294.8) rotate(-53) scale(0.75 1)" direction="rtl" font-family="'DejaVu Sans',sans-serif" font-weight="bold" font-size="5.9" fill="#3a5488" stroke="#3a5488" stroke-width="0.3">هفته 4 <tspan font-weight="normal" stroke="none" fill="#6878a0">اردیبهشت</tspan> 1400</text>
<text transform="translate(382.5 294.8) rotate(-53) scale(0.75 1)" direction="rtl" font-family="'DejaVu Sans',sans-serif" font-weight="bold" font-size="5.9" fill="#3a5488" stroke="#3a5488" stroke-width="0.3">هفته 2 <tspan font-weight="normal" stroke="none" fill="#6878a0">خرداد</tspan> 1400</text>
<text transform="translate(392.3 294.8) rotate(-53) scale(0.75 1)" direction="rtl" font-family="'DejaVu Sans',sans-serif" font-weight="bold" font-size="5.9" fill="#3a5488" stroke="#3a5488" stroke-width="0.3">هفته 4 <tspan font-weight="normal" stroke="none" fill="#6878a0">خرداد</tspan> 1400</text>
<text transform="translate(402.0 294.8) rotate(-53) scale(0.75 1)" direction="rtl" font-family="'DejaVu Sans',sans-serif" font-weight="bold" font-size="5.9" fill="#3a5488" stroke="#3a5488" stroke-width="0.3">هفته 2 <tspan font-weight="normal" stroke="none" fill="#6878a0">تیر</tspan> 1400</text>
<text transform="translate(411.7 294.8) rotate(-53) scale(0.75 1)" direction="rtl" font-family="'DejaVu Sans',sans-serif" font-weight="bold" font-size="5.9" fill="#3a5488" stroke="#3a5488" stroke-width="0.3">هفته 4 <tspan font-weight="normal" stroke="none" fill="#6878a0">تیر</tspan> 1400</text>
<text transform="translate(421.4 294.8) rotate(-53) scale(0.75 1)" direction="rtl" font-family="'DejaVu Sans',sans-serif" font-weight="bold" font-size="5.9" fill="#3a5488" stroke="#3a5488" stroke-width="0.3">هفته 2 <tspan font-weight="normal" stroke="none" fill="#6878a0">مرداد</tspan> 1400</text>
<text transform="translate(431.1 294.8) rotate(-53) scale(0.75 1)" direction="rtl" font-family="'DejaVu Sans',sans-serif" font-weight="bold" font-size="5.9" fill="#3a5488" stroke="#3a5488" stroke-width="0.3">هفته 4 <tspan font-weight="normal" stroke="none" fill="#6878a0">مرداد</tspan> 1400</text>
<text transform="translate(440.9 294.8) rotate(-53) scale(0.75 1)" direction="rtl" font-family="'DejaVu Sans',sans-serif" font-weight="bold" font-size="5.9" fill="#3a5488" stroke="#3a5488" stroke-width="0.3">هفته 2 <tspan font-weight="normal" stroke="none" fill="#6878a0">شهریور</tspan> 1400</text>
<text transform="translate(450.6 294.8) rotate(-53) scale(0.75 1)" direction="rtl" font-family="'DejaVu Sans',sans-serif" font-weight="bold" font-size="5.9" fill="#3a5488" stroke="#3a5488" stroke-width="0.3">هفته 4 <tspan font-weight="normal" stroke="none" fill="#6878a0">شهریور</tspan> 1400</text>
<text transform="translate(460.3 294.8) rotate(-53) scale(0.75 1)" direction="rtl" font-family="'DejaVu Sans',sans-serif" font-weight="bold" font-size="5.9" fill="#3a5488" stroke="#3a5488" stroke-width="0.3">هفته 2 <tspan font-weight="normal" stroke="none" fill="#6878a0">مهر</tspan> 1400</text>
<text transform="translate(470.0 294.8) rotate(-53) scale(0.75 1)" direction="rtl" font-family="'DejaVu Sans',sans-serif" font-weight="bold" font-size="5.9" fill="#3a5488" stroke="#3a5488" stroke-width="0.3">هفته 4 <tspan font-weight="normal" stroke="none" fill="#6878a0">مهر</tspan> 1400</text>
<text transform="translate(479.7 294.8) rotate(-53) scale(0.75 1)" direction="rtl" font-family="'DejaVu Sans',sans-serif" font-weight="bold" font-size="5.9" fill="#3a5488" stroke="#3a5488" stroke-width="0.3">هفته 2 <tspan font-weight="normal" stroke="none" fill="#6878a0">آبان</tspan> 1400</text>
<text transform="translate(489.5 294.8) rotate(-53) scale(0.75 1)" direction="rtl" font-family="'DejaVu Sans',sans-serif" font-weight="bold" font-size="5.9" fill="#3a5488" stroke="#3a5488" stroke-width="0.3">هفته 4 <tspan font-weight="normal" stroke="none" fill="#6878a0">آبان</tspan> 1400</text>
<text transform="translate(499.2 294.8) rotate(-53) scale(0.75 1)" direction="rtl" font-family="'DejaVu Sans',sans-serif" font-weight="bold" font-size="5.9" fill="#3a5488" stroke="#3a5488" stroke-width="0.3">هفته 2 <tspan font-weight="normal" stroke="none" fill="#6878a0">آذر</tspan> 1400</text>
<text transform="translate(508.9 294.8) rotate(-53) scale(0.75 1)" direction="rtl" font-family="'DejaVu Sans',sans-serif" font-weight="bold" font-size="5.9" fill="#3a5488" stroke="#3a5488" stroke-width="0.3">هفته 4 <tspan font-weight="normal" stroke="none" fill="#6878a0">آذر</tspan> 1400</text>
<text transform="translate(518.6 294.8) rotate(-53) scale(0.75 1)" direction="rtl" font-family="'DejaVu Sans',sans-serif" font-weight="bold" font-size="5.9" fill="#3a5488" stroke="#3a5488" stroke-width="0.3">هفته 2 <tspan font-weight="normal" stroke="none" fill="#6878a0">دی</tspan> 1400</text>
<rect x="527.7" y="309.4" width="44.8" height="4.3" fill="#c2c4c6"/>
<rect x="527.7" y="313.7" width="44.8" height="26" fill="#ffff00"/>
<line x1="529" x2="538" y1="321.4" y2="321.4" stroke="#e05a30" stroke-width="1.2"/><circle cx="533.5" cy="321.4" r="1.1" fill="#3a1a2a"/>
<line x1="529" x2="538" y1="333.2" y2="333.2" stroke="#3a3020" stroke-width="1.2"/>
<text x="538" y="323.9" font-family="'Liberation Sans',sans-serif" font-weight="bold" font-size="7" fill="#222" stroke="#222" stroke-width="0.15" textLength="16" lengthAdjust="spacingAndGlyphs">Sum of</text>
<text x="571" y="323.9" font-family="'DejaVu Sans',sans-serif" font-weight="bold" font-size="7" fill="#222" text-anchor="end" textLength="15" lengthAdjust="spacingAndGlyphs">بستری</text>
<text x="538" y="335.7" font-family="'Liberation Sans',sans-serif" font-weight="bold" font-size="7" fill="#222" stroke="#222" stroke-width="0.15" textLength="16" lengthAdjust="spacingAndGlyphs">Sum of</text>
<text x="567" y="335.7" font-family="'DejaVu Sans',sans-serif" font-weight="bold" font-size="7" fill="#222" text-anchor="end" textLength="10.5" lengthAdjust="spacingAndGlyphs">فوت</text>
<rect x="-2" y="453.2" width="314.2" height="184" rx="3" fill="#ffff00" stroke="#b08a20" stroke-width="1.2"/>
<rect x="0" y="457.1" width="25.5" height="4.6" fill="#d8d8cc"/>
<text x="1" y="460.7" font-family="'Liberation Sans',sans-serif" font-weight="bold" font-size="3.6" fill="#555" textLength="23" lengthAdjust="spacingAndGlyphs">WhatsApp-Image</text>
<rect x="0" y="629" width="9" height="5" fill="#dcdcc8"/>
<rect x="115" y="466.2" width="82" height="7.6" fill="#f0c4cc"/>
<text x="195.5" y="472.3" direction="rtl" font-family="'DejaVu Sans',sans-serif" font-weight="bold" font-size="5" fill="#a81838" stroke="#a81838" stroke-width="0.15" textLength="79" lengthAdjust="spacingAndGlyphs">مقایسه موارد بروز بیماری بستری کووید19 بین استان و کشور</text>
<text x="17" y="579.6" font-family="'Liberation Sans',sans-serif" font-weight="bold" font-size="4.2" fill="#b86a00" text-anchor="end">0</text>
<text x="17" y="568.9" font-family="'Liberation Sans',sans-serif" font-weight="bold" font-size="4.2" fill="#b86a00" text-anchor="end">5</text>
<text x="17" y="558.2" font-family="'Liberation Sans',sans-serif" font-weight="bold" font-size="4.2" fill="#b86a00" text-anchor="end">10</text>
<text x="17" y="547.5" font-family="'Liberation Sans',sans-serif" font-weight="bold" font-size="4.2" fill="#b86a00" text-anchor="end">15</text>
<text x="17" y="536.8" font-family="'Liberation Sans',sans-serif" font-weight="bold" font-size="4.2" fill="#b86a00" text-anchor="end">20</text>
<text x="17" y="526.1" font-family="'Liberation Sans',sans-serif" font-weight="bold" font-size="4.2" fill="#b86a00" text-anchor="end">25</text>
<text x="17" y="515.5" font-family="'Liberation Sans',sans-serif" font-weight="bold" font-size="4.2" fill="#b86a00" text-anchor="end">30</text>
<text x="17" y="504.8" font-family="'Liberation Sans',sans-serif" font-weight="bold" font-size="4.2" fill="#b86a00" text-anchor="end">35</text>
<text x="17" y="494.1" font-family="'Liberation Sans',sans-serif" font-weight="bold" font-size="4.2" fill="#b86a00" text-anchor="end">40</text>
<text x="17" y="483.4" font-family="'Liberation Sans',sans-serif" font-weight="bold" font-size="4.2" fill="#b86a00" text-anchor="end">45</text>
<line x1="19.8" x2="19.8" y1="482" y2="578" stroke="#a08000" stroke-width="0.9"/>
<line x1="19.8" x2="275.5" y1="577.9" y2="577.9" stroke="#a08000" stroke-width="1.6"/>
<path d="M20.6 565.7 C20.9 565.1 22.3 562.0 23.0 560.9 C23.7 559.8 25.4 556.8 26.2 556.4 C27.0 556.0 28.7 557.4 29.4 557.7 C30.1 558.0 31.6 559.2 32.3 559.3 C33.0 559.4 34.3 558.2 35.0 558.5 C35.7 558.8 37.5 560.7 38.2 561.7 C38.9 562.7 40.0 565.1 40.6 566.5 C41.2 567.9 42.4 573.3 43.0 573.7 C43.6 574.1 44.7 570.1 45.4 569.7 C46.1 569.3 47.9 570.2 48.7 570.5 C49.5 570.8 51.1 572.1 51.9 572.1 C52.7 572.1 54.2 571.3 55.1 570.5 C56.0 569.7 58.1 566.9 59.1 565.7 C60.1 564.5 62.2 561.5 63.1 560.1 C64.0 558.7 65.4 554.9 66.3 553.7 C67.2 552.5 69.2 551.4 70.3 550.5 C71.4 549.6 74.0 545.9 75.1 546.2 C76.2 546.5 78.0 551.5 79.1 552.9 C80.2 554.3 82.7 556.8 83.9 557.7 C85.1 558.6 87.7 559.6 88.7 560.1 C89.7 560.6 90.9 562.6 91.9 562.0 C92.9 561.4 95.5 556.7 96.7 555.3 C97.9 553.9 100.3 551.7 101.5 550.5 C102.7 549.3 105.3 546.6 106.3 545.7 C107.3 544.8 109.2 544.8 110.0 543.3 C110.8 541.8 112.4 534.7 113.2 532.9 C114.0 531.1 115.6 529.5 116.4 528.1 C117.2 526.7 118.8 521.3 119.6 521.3 C120.4 521.3 122.0 526.2 122.8 528.1 C123.6 530.0 125.1 534.6 126.0 536.9 C126.9 539.2 129.0 544.7 130.0 547.3 C131.0 549.9 132.9 556.5 134.0 558.5 C135.1 560.5 137.6 563.0 138.8 564.1 C140.0 565.2 142.5 566.9 143.7 567.3 C144.9 567.7 147.3 567.4 148.5 567.3 C149.7 567.2 152.1 566.6 153.3 566.5 C154.5 566.4 156.9 566.2 158.1 566.1 C159.3 566.0 161.7 565.8 162.9 565.7 C164.1 565.6 166.6 565.3 167.7 564.9 C168.8 564.5 170.9 563.5 171.7 562.5 C172.5 561.5 173.5 559.1 174.1 556.9 C174.7 554.7 175.9 547.6 176.5 544.1 C177.1 540.6 178.3 531.1 178.9 528.1 C179.5 525.1 180.7 520.6 181.3 519.3 C181.9 518.0 183.1 517.0 183.7 517.2 C184.3 517.4 185.5 519.4 186.1 520.9 C186.7 522.4 187.8 527.3 188.5 529.7 C189.2 532.1 190.9 538.4 191.7 540.9 C192.5 543.4 193.9 548.9 194.9 550.5 C195.9 552.1 198.5 553.8 199.7 554.5 C200.9 555.2 203.6 556.7 204.6 556.6 C205.6 556.5 207.2 554.7 208.0 554.0 C208.8 553.3 210.5 552.1 211.4 550.5 C212.3 548.9 214.5 543.0 215.4 540.9 C216.3 538.8 217.9 535.0 218.6 532.9 C219.3 530.8 220.4 525.8 221.0 523.3 C221.6 520.8 222.8 515.0 223.4 512.1 C224.0 509.2 225.2 501.5 225.8 499.2 C226.4 496.9 227.6 493.8 228.2 492.8 C228.8 491.8 230.0 491.1 230.6 491.2 C231.2 491.3 232.4 492.4 233.0 493.6 C233.6 494.8 234.8 498.6 235.4 500.8 C236.0 503.0 237.3 509.2 237.9 512.1 C238.5 515.0 239.6 521.8 240.3 524.9 C241.0 528.0 242.7 535.6 243.5 537.7 C244.3 539.8 245.9 541.5 246.7 542.5 C247.5 543.5 249.1 544.9 249.9 545.7 C250.7 546.5 252.3 547.9 253.1 548.9 C253.9 549.9 255.4 552.8 256.3 553.7 C257.2 554.6 259.3 555.4 260.3 556.1 C261.3 556.8 263.3 558.4 264.3 559.3 C265.3 560.2 267.3 562.4 268.3 563.3 C269.3 564.2 271.8 566.1 272.3 566.5" fill="none" stroke="#8a9a1c" stroke-width="1.25" stroke-linejoin="round"/>
<path d="M20.6 577.7 L24.6 575.3 L27.8 573.7 L31.0 573.4 L34.2 569.7 L37.4 571.8 L40.3 570.2 L43.0 575.0 L45.8 577.2 L48.7 574.0 L51.9 572.4 L55.1 571.3 L59.1 567.3 L63.1 563.3 L66.3 560.9 L70.3 559.6 L72.7 561.7 L75.9 567.3 L80.7 568.9 L85.5 571.3 L90.3 572.9 L95.1 572.9 L99.9 573.7 L104.7 571.8 L109.6 571.3 L114.0 567.3 L118.8 562.5 L122.0 563.3 L125.2 562.5 L128.4 568.1 L134.0 573.0 L140.4 575.4 L145.3 576.5 L151.7 577.0 L158.1 577.3 L164.5 577.0 L170.9 576.6 L175.7 574.6 L180.5 571.7 L186.9 570.1 L193.3 569.7 L198.1 565.7 L202.1 560.9 L206.2 556.6 L209.8 556.6 L212.2 552.1 L214.6 544.1 L217.0 548.9 L220.2 555.3 L223.4 557.7 L226.6 554.5 L229.8 558.5 L233.0 563.3 L235.4 567.3 L239.5 570.5 L244.3 571.7 L249.1 573.3 L253.1 573.8 L257.9 572.1 L261.9 571.0 L265.9 572.6 L270.7 572.9 L273.9 574.6" fill="none" stroke="#a04c00" stroke-width="1.3" stroke-linejoin="round"/>
<path d="M20.6 577.7 L24.6 575.3 L27.8 573.7 L31.0 573.4 L34.2 569.7 L37.4 571.8 L40.3 570.2 L43.0 575.0 L45.8 577.2 L48.7 574.0 L51.9 572.4 L55.1 571.3 L59.1 567.3 L63.1 563.3 L66.3 560.9 L70.3 559.6 L72.7 561.7 L75.9 567.3 L80.7 568.9 L85.5 571.3 L90.3 572.9 L95.1 572.9 L99.9 573.7 L104.7 571.8 L109.6 571.3 L114.0 567.3 L118.8 562.5 L122.0 563.3 L125.2 562.5 L128.4 568.1 L134.0 573.0 L140.4 575.4 L145.3 576.5 L151.7 577.0 L158.1 577.3 L164.5 577.0 L170.9 576.6 L175.7 574.6 L180.5 571.7 L186.9 570.1 L193.3 569.7 L198.1 565.7 L202.1 560.9 L206.2 556.6 L209.8 556.6 L212.2 552.1 L214.6 544.1 L217.0 548.9 L220.2 555.3 L223.4 557.7 L226.6 554.5 L229.8 558.5 L233.0 563.3 L235.4 567.3 L239.5 570.5 L244.3 571.7 L249.1 573.3 L253.1 573.8 L257.9 572.1 L261.9 571.0 L265.9 572.6 L270.7 572.9 L273.9 574.6" fill="none" stroke="#7a2c00" stroke-width="1.9" stroke-linejoin="round" stroke-dasharray="0.8 1.4"/>
<text x="274" y="563.7" font-family="'Liberation Sans',sans-serif" font-weight="bold" font-size="4.5" fill="#7aa020">3.5</text>
<text x="275.5" y="577.5" font-family="'Liberation Sans',sans-serif" font-weight="bold" font-size="4.5" fill="#e07800">2.7</text>
<text transform="translate(20.3 585.4) rotate(-64) scale(0.62 1)" direction="rtl" font-family="'DejaVu Sans',sans-serif" font-weight="bold" font-size="4.8" fill="#8c7600" stroke="#8c7600" stroke-width="0.25">هفته 1 و 2 اسفند 1398</text>
<text transform="translate(25.9 585.4) rotate(-64) scale(0.62 1)" direction="rtl" font-family="'DejaVu Sans',sans-serif" font-weight="bold" font-size="4.8" fill="#8c7600" stroke="#8c7600" stroke-width="0.25">هفته 2 فروردین 1399</text>
<text transform="translate(31.5 585.4) rotate(-64) scale(0.62 1)" direction="rtl" font-family="'DejaVu Sans',sans-serif" font-weight="bold" font-size="4.8" fill="#8c7600" stroke="#8c7600" stroke-width="0.25">هفته 4 فروردین 1399</text>
<text transform="translate(37.1 585.4) rotate(-64) scale(0.62 1)" direction="rtl" font-family="'DejaVu Sans',sans-serif" font-weight="bold" font-size="4.8" fill="#8c7600" stroke="#8c7600" stroke-width="0.25">هفته 2 اردیبهشت 1399</text>
<text transform="translate(42.7 585.4) rotate(-64) scale(0.62 1)" direction="rtl" font-family="'DejaVu Sans',sans-serif" font-weight="bold" font-size="4.8" fill="#8c7600" stroke="#8c7600" stroke-width="0.25">هفته 4 اردیبهشت 1399</text>
<text transform="translate(48.3 585.4) rotate(-64) scale(0.62 1)" direction="rtl" font-family="'DejaVu Sans',sans-serif" font-weight="bold" font-size="4.8" fill="#8c7600" stroke="#8c7600" stroke-width="0.25">هفته 2 خرداد 1399</text>
<text transform="translate(53.9 585.4) rotate(-64) scale(0.62 1)" direction="rtl" font-family="'DejaVu Sans',sans-serif" font-weight="bold" font-size="4.8" fill="#8c7600" stroke="#8c7600" stroke-width="0.25">هفته 4 خرداد 1399</text>
<text transform="translate(59.5 585.4) rotate(-64) scale(0.62 1)" direction="rtl" font-family="'DejaVu Sans',sans-serif" font-weight="bold" font-size="4.8" fill="#8c7600" stroke="#8c7600" stroke-width="0.25">هفته 2 تیر 1399</text>
<text transform="translate(65.1 585.4) rotate(-64) scale(0.62 1)" direction="rtl" font-family="'DejaVu Sans',sans-serif" font-weight="bold" font-size="4.8" fill="#8c7600" stroke="#8c7600" stroke-width="0.25">هفته 4 تیر 1399</text>
<text transform="translate(70.7 585.4) rotate(-64) scale(0.62 1)" direction="rtl" font-family="'DejaVu Sans',sans-serif" font-weight="bold" font-size="4.8" fill="#8c7600" stroke="#8c7600" stroke-width="0.25">هفته 2 مرداد 1399</text>
<text transform="translate(76.3 585.4) rotate(-64) scale(0.62 1)" direction="rtl" font-family="'DejaVu Sans',sans-serif" font-weight="bold" font-size="4.8" fill="#8c7600" stroke="#8c7600" stroke-width="0.25">هفته 4 مرداد 1399</text>
<text transform="translate(81.9 585.4) rotate(-64) scale(0.62 1)" direction="rtl" font-family="'DejaVu Sans',sans-serif" font-weight="bold" font-size="4.8" fill="#8c7600" stroke="#8c7600" stroke-width="0.25">هفته 2 شهریور 1399</text>
<text transform="translate(87.5 585.4) rotate(-64) scale(0.62 1)" direction="rtl" font-family="'DejaVu Sans',sans-serif" font-weight="bold" font-size="4.8" fill="#8c7600" stroke="#8c7600" stroke-width="0.25">هفته 4 شهریور 1399</text>
<text transform="translate(93.1 585.4) rotate(-64) scale(0.62 1)" direction="rtl" font-family="'DejaVu Sans',sans-serif" font-weight="bold" font-size="4.8" fill="#8c7600" stroke="#8c7600" stroke-width="0.25">هفته 2 مهر 1399</text>
<text transform="translate(98.7 585.4) rotate(-64) scale(0.62 1)" direction="rtl" font-family="'DejaVu Sans',sans-serif" font-weight="bold" font-size="4.8" fill="#8c7600" stroke="#8c7600" stroke-width="0.25">هفته 4 مهر 1399</text>
<text transform="translate(104.3 585.4) rotate(-64) scale(0.62 1)" direction="rtl" font-family="'DejaVu Sans',sans-serif" font-weight="bold" font-size="4.8" fill="#8c7600" stroke="#8c7600" stroke-width="0.25">هفته 2 آبان 1399</text>
<text transform="translate(109.9 585.4) rotate(-64) scale(0.62 1)" direction="rtl" font-family="'DejaVu Sans',sans-serif" font-weight="bold" font-size="4.8" fill="#8c7600" stroke="#8c7600" stroke-width="0.25">هفته 4 آبان 1399</text>
<text transform="translate(115.5 585.4) rotate(-64) scale(0.62 1)" direction="rtl" font-family="'DejaVu Sans',sans-serif" font-weight="bold" font-size="4.8" fill="#8c7600" stroke="#8c7600" stroke-width="0.25">هفته 2 آذر 1399</text>
<text transform="translate(121.1 585.4) rotate(-64) scale(0.62 1)" direction="rtl" font-family="'DejaVu Sans',sans-serif" font-weight="bold" font-size="4.8" fill="#8c7600" stroke="#8c7600" stroke-width="0.25">هفته 4 آذر 1399</text>
<text transform="translate(126.7 585.4) rotate(-64) scale(0.62 1)" direction="rtl" font-family="'DejaVu Sans',sans-serif" font-weight="bold" font-size="4.8" fill="#8c7600" stroke="#8c7600" stroke-width="0.25">هفته 2 دی 1399</text>
<text transform="translate(132.3 585.4) rotate(-64) scale(0.62 1)" direction="rtl" font-family="'DejaVu Sans',sans-serif" font-weight="bold" font-size="4.8" fill="#8c7600" stroke="#8c7600" stroke-width="0.25">هفته 4 دی 1399</text>
<text transform="translate(137.9 585.4) rotate(-64) scale(0.62 1)" direction="rtl" font-family="'DejaVu Sans',sans-serif" font-weight="bold" font-size="4.8" fill="#8c7600" stroke="#8c7600" stroke-width="0.25">هفته 2 بهمن 1399</text>
<text transform="translate(143.5 585.4) rotate(-64) scale(0.62 1)" direction="rtl" font-family="'DejaVu Sans',sans-serif" font-weight="bold" font-size="4.8" fill="#8c7600" stroke="#8c7600" stroke-width="0.25">هفته 4 بهمن 1399</text>
<text transform="translate(149.1 585.4) rotate(-64) scale(0.62 1)" direction="rtl" font-family="'DejaVu Sans',sans-serif" font-weight="bold" font-size="4.8" fill="#8c7600" stroke="#8c7600" stroke-width="0.25">هفته 2 اسفند 1399</text>
<text transform="translate(154.7 585.4) rotate(-64) scale(0.62 1)" direction="rtl" font-family="'DejaVu Sans',sans-serif" font-weight="bold" font-size="4.8" fill="#8c7600" stroke="#8c7600" stroke-width="0.25">هفته 4 اسفند 1399</text>
<text transform="translate(160.3 585.4) rotate(-64) scale(0.62 1)" direction="rtl" font-family="'DejaVu Sans',sans-serif" font-weight="bold" font-size="4.8" fill="#8c7600" stroke="#8c7600" stroke-width="0.25">هفته 2 فروردین 1400</text>
<text transform="translate(165.9 585.4) rotate(-64) scale(0.62 1)" direction="rtl" font-family="'DejaVu Sans',sans-serif" font-weight="bold" font-size="4.8" fill="#8c7600" stroke="#8c7600" stroke-width="0.25">هفته 4 فروردین 1400</text>
<text transform="translate(171.5 585.4) rotate(-64) scale(0.62 1)" direction="rtl" font-family="'DejaVu Sans',sans-serif" font-weight="bold" font-size="4.8" fill="#8c7600" stroke="#8c7600" stroke-width="0.25">هفته 2 اردیبهشت 1400</text>
<text transform="translate(177.1 585.4) rotate(-64) scale(0.62 1)" direction="rtl" font-family="'DejaVu Sans',sans-serif" font-weight="bold" font-size="4.8" fill="#8c7600" stroke="#8c7600" stroke-width="0.25">هفته 4 اردیبهشت 1400</text>
<text transform="translate(182.7 585.4) rotate(-64) scale(0.62 1)" direction="rtl" font-family="'DejaVu Sans',sans-serif" font-weight="bold" font-size="4.8" fill="#8c7600" stroke="#8c7600" stroke-width="0.25">هفته 2 خرداد 1400</text>
<text transform="translate(188.3 585.4) rotate(-64) scale(0.62 1)" direction="rtl" font-family="'DejaVu Sans',sans-serif" font-weight="bold" font-size="4.8" fill="#8c7600" stroke="#8c7600" stroke-width="0.25">هفته 4 خرداد 1400</text>
<text transform="translate(193.9 585.4) rotate(-64) scale(0.62 1)" direction="rtl" font-family="'DejaVu Sans',sans-serif" font-weight="bold" font-size="4.8" fill="#8c7600" stroke="#8c7600" stroke-width="0.25">هفته 2 تیر 1400</text>
<text transform="translate(199.5 585.4) rotate(-64) scale(0.62 1)" direction="rtl" font-family="'DejaVu Sans',sans-serif" font-weight="bold" font-size="4.8" fill="#8c7600" stroke="#8c7600" stroke-width="0.25">هفته 4 تیر 1400</text>
<text transform="translate(205.1 585.4) rotate(-64) scale(0.62 1)" direction="rtl" font-family="'DejaVu Sans',sans-serif" font-weight="bold" font-size="4.8" fill="#8c7600" stroke="#8c7600" stroke-width="0.25">هفته 2 مرداد 1400</text>
<text transform="translate(210.7 585.4) rotate(-64) scale(0.62 1)" direction="rtl" font-family="'DejaVu Sans',sans-serif" font-weight="bold" font-size="4.8" fill="#8c7600" stroke="#8c7600" stroke-width="0.25">هفته 4 مرداد 1400</text>
<text transform="translate(216.3 585.4) rotate(-64) scale(0.62 1)" direction="rtl" font-family="'DejaVu Sans',sans-serif" font-weight="bold" font-size="4.8" fill="#8c7600" stroke="#8c7600" stroke-width="0.25">هفته 2 شهریور 1400</text>
<text transform="translate(221.9 585.4) rotate(-64) scale(0.62 1)" direction="rtl" font-family="'DejaVu Sans',sans-serif" font-weight="bold" font-size="4.8" fill="#8c7600" stroke="#8c7600" stroke-width="0.25">هفته 4 شهریور 1400</text>
<text transform="translate(227.5 585.4) rotate(-64) scale(0.62 1)" direction="rtl" font-family="'DejaVu Sans',sans-serif" font-weight="bold" font-size="4.8" fill="#8c7600" stroke="#8c7600" stroke-width="0.25">هفته 2 مهر 1400</text>
<text transform="translate(233.1 585.4) rotate(-64) scale(0.62 1)" direction="rtl" font-family="'DejaVu Sans',sans-serif" font-weight="bold" font-size="4.8" fill="#8c7600" stroke="#8c7600" stroke-width="0.25">هفته 4 مهر 1400</text>
<text transform="translate(238.7 585.4) rotate(-64) scale(0.62 1)" direction="rtl" font-family="'DejaVu Sans',sans-serif" font-weight="bold" font-size="4.8" fill="#8c7600" stroke="#8c7600" stroke-width="0.25">هفته 2 آبان 1400</text>
<text transform="translate(244.3 585.4) rotate(-64) scale(0.62 1)" direction="rtl" font-family="'DejaVu Sans',sans-serif" font-weight="bold" font-size="4.8" fill="#8c7600" stroke="#8c7600" stroke-width="0.25">هفته 4 آبان 1400</text>
<text transform="translate(249.9 585.4) rotate(-64) scale(0.62 1)" direction="rtl" font-family="'DejaVu Sans',sans-serif" font-weight="bold" font-size="4.8" fill="#8c7600" stroke="#8c7600" stroke-width="0.25">هفته 2 آذر 1400</text>
<text transform="translate(255.5 585.4) rotate(-64) scale(0.62 1)" direction="rtl" font-family="'DejaVu Sans',sans-serif" font-weight="bold" font-size="4.8" fill="#8c7600" stroke="#8c7600" stroke-width="0.25">هفته 4 آذر 1400</text>
<text transform="translate(261.1 585.4) rotate(-64) scale(0.62 1)" direction="rtl" font-family="'DejaVu Sans',sans-serif" font-weight="bold" font-size="4.8" fill="#8c7600" stroke="#8c7600" stroke-width="0.25">هفته 2 دی 1400</text>
<text transform="translate(266.7 585.4) rotate(-64) scale(0.62 1)" direction="rtl" font-family="'DejaVu Sans',sans-serif" font-weight="bold" font-size="4.8" fill="#8c7600" stroke="#8c7600" stroke-width="0.25">هفته 4 دی 1400</text>
<text transform="translate(272.3 585.4) rotate(-64) scale(0.62 1)" direction="rtl" font-family="'DejaVu Sans',sans-serif" font-weight="bold" font-size="4.8" fill="#8c7600" stroke="#8c7600" stroke-width="0.25">هفته 2 بهمن 1400</text>
<rect x="278.1" y="598.7" width="31.1" height="27" fill="#d8d8e4"/>
<rect x="278.1" y="598.7" width="31.1" height="2" fill="#c4c4d0"/>
<line x1="278.6" x2="284" y1="609.6" y2="609.6" stroke="#9a2000" stroke-width="1.1"/><circle cx="281.3" cy="609.6" r="0.9" fill="#6a1a00"/>
<text x="308" y="610" direction="rtl" font-family="'DejaVu Sans',sans-serif" font-weight="bold" font-size="4" fill="#8a3070" textLength="22" lengthAdjust="spacingAndGlyphs">سیستان و بلوچستان</text>
<line x1="278.6" x2="283.5" y1="621.2" y2="621.2" stroke="#5a5a78" stroke-width="1"/>
<text x="296" y="622.6" direction="rtl" font-family="'DejaVu Sans',sans-serif" font-weight="bold" font-size="4" fill="#4a5a90" textLength="10" lengthAdjust="spacingAndGlyphs">کل کشور</text>
<rect x="312.8" y="453.2" width="305.5" height="184" rx="1" fill="#d9d9d9"/>
<path d="M312.6 453.2 H615.3 A3 3 0 0 1 618.3 456.2 V634.2 A3 3 0 0 1 615.3 637.2 H312.6" fill="none" stroke="#555" stroke-width="1.2"/>
<line x1="313.4" x2="313.4" y1="454" y2="636.6" stroke="#e2e2c8" stroke-width="1"/>
<line x1="312.4" x2="312.4" y1="453.6" y2="637" stroke="#8a8a40" stroke-width="1"/>
<rect x="315" y="457.3" width="22" height="4.4" fill="#d2d2d2"/>
<text x="315.5" y="460.8" font-family="'Liberation Sans',sans-serif" font-weight="bold" font-size="3.6" fill="#777" textLength="20" lengthAdjust="spacingAndGlyphs">WhatsApp</text>
<rect x="315" y="628" width="8" height="4" fill="#cfcfcf"/>
<rect x="426" y="466" width="79" height="9" fill="#ffff00"/>
<text x="503.5" y="472.6" direction="rtl" font-family="'DejaVu Sans',sans-serif" font-weight="bold" font-size="5" fill="#222" stroke="#222" stroke-width="0.15" textLength="76" lengthAdjust="spacingAndGlyphs">مقایسه موارد مرگ و میر بیماری کووید19 بین استان و کشور</text>
<text x="327.3" y="579.4" font-family="'Liberation Sans',sans-serif" font-weight="bold" font-size="4.8" fill="#333" stroke="#333" stroke-width="0.2" text-anchor="end">0</text>
<text x="327.3" y="565.7" font-family="'Liberation Sans',sans-serif" font-weight="bold" font-size="4.8" fill="#333" stroke="#333" stroke-width="0.2" text-anchor="end">1</text>
<text x="327.3" y="552.1" font-family="'Liberation Sans',sans-serif" font-weight="bold" font-size="4.8" fill="#333" stroke="#333" stroke-width="0.2" text-anchor="end">2</text>
<text x="327.3" y="538.4" font-family="'Liberation Sans',sans-serif" font-weight="bold" font-size="4.8" fill="#333" stroke="#333" stroke-width="0.2" text-anchor="end">3</text>
<text x="327.3" y="524.7" font-family="'Liberation Sans',sans-serif" font-weight="bold" font-size="4.8" fill="#333" stroke="#333" stroke-width="0.2" text-anchor="end">4</text>
<text x="327.3" y="511.1" font-family="'Liberation Sans',sans-serif" font-weight="bold" font-size="4.8" fill="#333" stroke="#333" stroke-width="0.2" text-anchor="end">5</text>
<text x="327.3" y="497.4" font-family="'Liberation Sans',sans-serif" font-weight="bold" font-size="4.8" fill="#333" stroke="#333" stroke-width="0.2" text-anchor="end">6</text>
<text x="327.3" y="483.7" font-family="'Liberation Sans',sans-serif" font-weight="bold" font-size="4.8" fill="#333" stroke="#333" stroke-width="0.2" text-anchor="end">7</text>
<line x1="330.5" x2="330.5" y1="482" y2="578" stroke="#6a6a6a" stroke-width="0.8"/>
<line x1="330.5" x2="586" y1="577.7" y2="577.7" stroke="#333" stroke-width="1.2"/>
<path d="M331.2 571.8 C331.7 570.6 334.1 563.3 335.1 561.5 C336.1 559.7 338.6 557.4 339.7 557.2 C340.8 557.0 343.0 558.7 344.1 559.7 C345.2 560.7 348.0 564.3 349.2 565.4 C350.4 566.5 353.1 568.5 354.3 569.2 C355.5 569.9 358.4 570.6 359.4 571.0 C360.4 571.4 361.6 572.3 362.6 572.2 C363.6 572.1 366.5 570.8 367.7 569.9 C368.9 569.0 371.6 566.4 372.8 565.1 C374.0 563.8 376.3 560.5 377.3 559.4 C378.3 558.3 380.3 557.4 381.2 556.2 C382.1 555.0 383.8 551.0 384.4 549.7 C385.0 548.4 385.9 545.3 386.6 545.3 C387.3 545.3 389.2 548.7 390.1 549.7 C391.0 550.7 393.0 552.6 394.0 553.6 C395.0 554.6 397.6 557.3 398.5 558.1 C399.4 558.9 400.7 560.6 401.7 560.6 C402.7 560.6 405.7 558.5 406.9 557.7 C408.1 556.9 410.8 554.9 412.0 553.8 C413.2 552.7 416.0 550.4 417.1 548.7 C418.2 547.0 420.1 542.2 421.0 539.7 C421.9 537.2 424.0 529.7 424.8 528.2 C425.6 526.7 426.6 528.4 427.4 526.9 C428.2 525.4 430.3 516.2 431.2 515.4 C432.1 514.6 434.0 518.5 435.1 520.5 C436.2 522.5 439.1 528.4 440.2 532.1 C441.3 535.8 442.9 547.6 444.1 551.3 C445.3 555.0 448.8 561.0 450.5 562.8 C452.2 564.6 456.6 566.0 458.2 566.7 C459.8 567.4 462.4 568.2 464.0 568.5 C465.6 568.8 470.2 569.3 471.7 569.2 C473.2 569.1 475.3 567.5 476.8 567.4 C478.3 567.3 483.1 569.8 484.5 568.0 C485.9 566.2 487.5 556.3 488.4 552.6 C489.3 548.9 491.3 540.1 492.2 537.2 C493.1 534.3 495.2 528.4 496.1 528.2 C497.0 528.0 499.1 534.4 499.9 535.9 C500.7 537.4 501.7 539.0 502.5 541.0 C503.3 543.0 505.2 550.4 506.3 552.6 C507.4 554.8 510.0 557.8 511.4 559.0 C512.8 560.2 516.3 562.6 517.8 562.8 C519.3 563.0 522.9 561.5 524.3 560.3 C525.7 559.1 528.3 555.4 529.4 552.6 C530.5 549.8 532.3 541.1 533.2 537.2 C534.1 533.3 535.7 523.4 536.5 520.0 C537.3 516.6 538.6 510.9 539.5 509.0 C540.4 507.1 542.7 503.8 543.8 504.1 C544.9 504.4 547.5 508.9 548.6 511.5 C549.7 514.1 551.9 522.6 552.8 526.0 C553.7 529.4 555.3 537.6 556.0 540.0 C556.7 542.4 557.9 544.5 558.9 546.2 C559.9 547.9 562.8 552.3 564.0 553.8 C565.2 555.3 567.9 557.9 569.1 559.0 C570.3 560.1 573.1 562.0 574.3 562.8 C575.5 563.6 578.2 565.2 579.4 565.9 C580.6 566.6 583.9 568.2 584.5 568.5" fill="none" stroke="#7d9db6" stroke-width="1.15" stroke-linejoin="round"/>
<path d="M331.2 577.7 C332.0 577.4 336.1 576.2 337.6 575.6 C339.1 575.0 342.6 573.2 344.1 573.1 C345.6 573.0 349.0 574.9 350.5 575.1 C352.0 575.3 355.8 574.7 356.9 574.4 C358.0 574.1 359.2 572.8 360.0 572.2 C360.8 571.6 362.9 570.4 363.8 569.0 C364.7 567.6 367.0 561.7 367.7 560.6 C368.4 559.5 368.8 559.7 369.6 559.7 C370.4 559.7 373.2 560.9 374.1 560.6 C375.0 560.3 376.2 558.4 376.7 557.4 C377.2 556.4 378.1 552.1 378.6 552.3 C379.1 552.5 380.0 559.1 380.5 559.4 C381.0 559.7 381.9 556.2 382.4 554.9 C382.9 553.6 383.9 549.0 384.4 548.8 C384.9 548.6 385.8 551.4 386.3 553.0 C386.8 554.6 387.8 560.1 388.2 561.9 C388.6 563.7 389.1 567.4 389.7 567.7 C390.3 568.0 392.1 564.7 392.9 564.8 C393.7 564.9 395.9 568.5 396.7 568.8 C397.5 569.1 398.5 566.5 399.3 566.9 C400.1 567.3 402.4 571.6 403.3 572.0 C404.2 572.4 405.6 570.7 406.5 570.4 C407.4 570.1 409.6 570.1 410.5 569.7 C411.4 569.3 412.9 567.0 413.7 567.2 C414.5 567.4 416.0 571.3 416.9 571.3 C417.8 571.3 419.9 568.0 420.9 567.2 C421.9 566.4 423.8 566.0 425.0 564.5 C426.2 563.0 429.8 557.3 431.2 555.1 C432.6 552.9 435.2 546.2 436.4 546.2 C437.6 546.2 440.3 552.6 441.5 555.1 C442.7 557.6 445.2 564.9 446.6 566.7 C448.0 568.5 451.3 569.6 453.0 570.5 C454.7 571.4 459.4 573.8 460.7 574.4 C462.0 575.0 462.7 575.3 464.0 575.6 C465.3 575.9 469.9 576.8 471.7 576.9 C473.5 577.0 477.6 576.5 479.4 576.2 C481.2 575.9 485.3 575.2 487.1 574.4 C488.9 573.6 493.0 569.9 494.8 569.2 C496.6 568.5 500.8 568.8 502.5 568.5 C504.2 568.2 507.7 568.1 508.9 566.7 C510.1 565.3 511.8 558.9 512.7 557.2 C513.6 555.5 515.7 556.2 516.6 552.6 C517.5 549.0 519.4 533.3 520.4 526.9 C521.4 520.5 523.9 502.0 525.0 499.4 C526.1 496.8 528.3 501.4 529.4 505.1 C530.5 508.8 533.3 524.6 534.5 530.0 C535.7 535.4 538.5 547.0 539.6 550.0 C540.7 553.0 542.4 553.4 543.5 555.1 C544.6 556.8 547.4 562.3 548.6 564.1 C549.8 565.9 552.5 569.3 553.7 570.5 C554.9 571.7 557.7 574.3 558.9 574.4 C560.1 574.5 562.8 571.7 564.0 571.0 C565.2 570.3 568.0 568.1 569.1 568.5 C570.2 568.9 571.8 573.8 573.0 574.4 C574.2 575.0 578.0 573.7 579.4 573.6 C580.8 573.5 583.9 573.6 584.5 573.6" fill="none" stroke="#57552c" stroke-width="1.15" stroke-linejoin="round"/>
<text x="586" y="566" font-family="'Liberation Sans',sans-serif" font-weight="bold" font-size="4.8" fill="#5a90c8">4.8</text>
<text x="586" y="576" font-family="'Liberation Sans',sans-serif" font-weight="bold" font-size="4.8" fill="#333">1.2</text>
<text transform="translate(331.2 585.4) rotate(-64) scale(0.62 1)" direction="rtl" font-family="'DejaVu Sans',sans-serif" font-weight="bold" font-size="4.8" fill="#505050" stroke="#505050" stroke-width="0.25">هفته 1 و 2 اسفند 1398</text>
<text transform="translate(336.6 585.4) rotate(-64) scale(0.62 1)" direction="rtl" font-family="'DejaVu Sans',sans-serif" font-weight="bold" font-size="4.8" fill="#505050" stroke="#505050" stroke-width="0.25">هفته 2 فروردین 1399</text>
<text transform="translate(342.1 585.4) rotate(-64) scale(0.62 1)" direction="rtl" font-family="'DejaVu Sans',sans-serif" font-weight="bold" font-size="4.8" fill="#505050" stroke="#505050" stroke-width="0.25">هفته 4 فروردین 1399</text>
<text transform="translate(347.6 585.4) rotate(-64) scale(0.62 1)" direction="rtl" font-family="'DejaVu Sans',sans-serif" font-weight="bold" font-size="4.8" fill="#505050" stroke="#505050" stroke-width="0.25">هفته 2 اردیبهشت 1399</text>
<text transform="translate(353.0 585.4) rotate(-64) scale(0.62 1)" direction="rtl" font-family="'DejaVu Sans',sans-serif" font-weight="bold" font-size="4.8" fill="#505050" stroke="#505050" stroke-width="0.25">هفته 4 اردیبهشت 1399</text>
<text transform="translate(358.4 585.4) rotate(-64) scale(0.62 1)" direction="rtl" font-family="'DejaVu Sans',sans-serif" font-weight="bold" font-size="4.8" fill="#505050" stroke="#505050" stroke-width="0.25">هفته 2 خرداد 1399</text>
<text transform="translate(363.9 585.4) rotate(-64) scale(0.62 1)" direction="rtl" font-family="'DejaVu Sans',sans-serif" font-weight="bold" font-size="4.8" fill="#505050" stroke="#505050" stroke-width="0.25">هفته 4 خرداد 1399</text>
<text transform="translate(369.3 585.4) rotate(-64) scale(0.62 1)" direction="rtl" font-family="'DejaVu Sans',sans-serif" font-weight="bold" font-size="4.8" fill="#505050" stroke="#505050" stroke-width="0.25">هفته 2 تیر 1399</text>
<text transform="translate(374.8 585.4) rotate(-64) scale(0.62 1)" direction="rtl" font-family="'DejaVu Sans',sans-serif" font-weight="bold" font-size="4.8" fill="#505050" stroke="#505050" stroke-width="0.25">هفته 4 تیر 1399</text>
<text transform="translate(380.2 585.4) rotate(-64) scale(0.62 1)" direction="rtl" font-family="'DejaVu Sans',sans-serif" font-weight="bold" font-size="4.8" fill="#505050" stroke="#505050" stroke-width="0.25">هفته 2 مرداد 1399</text>
<text transform="translate(385.7 585.4) rotate(-64) scale(0.62 1)" direction="rtl" font-family="'DejaVu Sans',sans-serif" font-weight="bold" font-size="4.8" fill="#505050" stroke="#505050" stroke-width="0.25">هفته 4 مرداد 1399</text>
<text transform="translate(391.1 585.4) rotate(-64) scale(0.62 1)" direction="rtl" font-family="'DejaVu Sans',sans-serif" font-weight="bold" font-size="4.8" fill="#505050" stroke="#505050" stroke-width="0.25">هفته 2 شهریور 1399</text>
<text transform="translate(396.6 585.4) rotate(-64) scale(0.62 1)" direction="rtl" font-family="'DejaVu Sans',sans-serif" font-weight="bold" font-size="4.8" fill="#505050" stroke="#505050" stroke-width="0.25">هفته 4 شهریور 1399</text>
<text transform="translate(402.1 585.4) rotate(-64) scale(0.62 1)" direction="rtl" font-family="'DejaVu Sans',sans-serif" font-weight="bold" font-size="4.8" fill="#505050" stroke="#505050" stroke-width="0.25">هفته 2 مهر 1399</text>
<text transform="translate(407.5 585.4) rotate(-64) scale(0.62 1)" direction="rtl" font-family="'DejaVu Sans',sans-serif" font-weight="bold" font-size="4.8" fill="#505050" stroke="#505050" stroke-width="0.25">هفته 4 مهر 1399</text>
<text transform="translate(412.9 585.4) rotate(-64) scale(0.62 1)" direction="rtl" font-family="'DejaVu Sans',sans-serif" font-weight="bold" font-size="4.8" fill="#505050" stroke="#505050" stroke-width="0.25">هفته 2 آبان 1399</text>
<text transform="translate(418.4 585.4) rotate(-64) scale(0.62 1)" direction="rtl" font-family="'DejaVu Sans',sans-serif" font-weight="bold" font-size="4.8" fill="#505050" stroke="#505050" stroke-width="0.25">هفته 4 آبان 1399</text>
<text transform="translate(423.9 585.4) rotate(-64) scale(0.62 1)" direction="rtl" font-family="'DejaVu Sans',sans-serif" font-weight="bold" font-size="4.8" fill="#505050" stroke="#505050" stroke-width="0.25">هفته 2 آذر 1399</text>
<text transform="translate(429.3 585.4) rotate(-64) scale(0.62 1)" direction="rtl" font-family="'DejaVu Sans',sans-serif" font-weight="bold" font-size="4.8" fill="#505050" stroke="#505050" stroke-width="0.25">هفته 4 آذر 1399</text>
<text transform="translate(434.8 585.4) rotate(-64) scale(0.62 1)" direction="rtl" font-family="'DejaVu Sans',sans-serif" font-weight="bold" font-size="4.8" fill="#505050" stroke="#505050" stroke-width="0.25">هفته 2 دی 1399</text>
<text transform="translate(440.2 585.4) rotate(-64) scale(0.62 1)" direction="rtl" font-family="'DejaVu Sans',sans-serif" font-weight="bold" font-size="4.8" fill="#505050" stroke="#505050" stroke-width="0.25">هفته 4 دی 1399</text>
<text transform="translate(445.6 585.4) rotate(-64) scale(0.62 1)" direction="rtl" font-family="'DejaVu Sans',sans-serif" font-weight="bold" font-size="4.8" fill="#505050" stroke="#505050" stroke-width="0.25">هفته 2 بهمن 1399</text>
<text transform="translate(451.1 585.4) rotate(-64) scale(0.62 1)" direction="rtl" font-family="'DejaVu Sans',sans-serif" font-weight="bold" font-size="4.8" fill="#505050" stroke="#505050" stroke-width="0.25">هفته 4 بهمن 1399</text>
<text transform="translate(456.6 585.4) rotate(-64) scale(0.62 1)" direction="rtl" font-family="'DejaVu Sans',sans-serif" font-weight="bold" font-size="4.8" fill="#505050" stroke="#505050" stroke-width="0.25">هفته 2 اسفند 1399</text>
<text transform="translate(462.0 585.4) rotate(-64) scale(0.62 1)" direction="rtl" font-family="'DejaVu Sans',sans-serif" font-weight="bold" font-size="4.8" fill="#505050" stroke="#505050" stroke-width="0.25">هفته 4 اسفند 1399</text>
<text transform="translate(467.4 585.4) rotate(-64) scale(0.62 1)" direction="rtl" font-family="'DejaVu Sans',sans-serif" font-weight="bold" font-size="4.8" fill="#505050" stroke="#505050" stroke-width="0.25">هفته 2 فروردین 1400</text>
<text transform="translate(472.9 585.4) rotate(-64) scale(0.62 1)" direction="rtl" font-family="'DejaVu Sans',sans-serif" font-weight="bold" font-size="4.8" fill="#505050" stroke="#505050" stroke-width="0.25">هفته 4 فروردین 1400</text>
<text transform="translate(478.4 585.4) rotate(-64) scale(0.62 1)" direction="rtl" font-family="'DejaVu Sans',sans-serif" font-weight="bold" font-size="4.8" fill="#505050" stroke="#505050" stroke-width="0.25">هفته 2 اردیبهشت 1400</text>
<text transform="translate(483.8 585.4) rotate(-64) scale(0.62 1)" direction="rtl" font-family="'DejaVu Sans',sans-serif" font-weight="bold" font-size="4.8" fill="#505050" stroke="#505050" stroke-width="0.25">هفته 4 اردیبهشت 1400</text>
<text transform="translate(489.2 585.4) rotate(-64) scale(0.62 1)" direction="rtl" font-family="'DejaVu Sans',sans-serif" font-weight="bold" font-size="4.8" fill="#505050" stroke="#505050" stroke-width="0.25">هفته 2 خرداد 1400</text>
<text transform="translate(494.7 585.4) rotate(-64) scale(0.62 1)" direction="rtl" font-family="'DejaVu Sans',sans-serif" font-weight="bold" font-size="4.8" fill="#505050" stroke="#505050" stroke-width="0.25">هفته 4 خرداد 1400</text>
<text transform="translate(500.1 585.4) rotate(-64) scale(0.62 1)" direction="rtl" font-family="'DejaVu Sans',sans-serif" font-weight="bold" font-size="4.8" fill="#505050" stroke="#505050" stroke-width="0.25">هفته 2 تیر 1400</text>
<text transform="translate(505.6 585.4) rotate(-64) scale(0.62 1)" direction="rtl" font-family="'DejaVu Sans',sans-serif" font-weight="bold" font-size="4.8" fill="#505050" stroke="#505050" stroke-width="0.25">هفته 4 تیر 1400</text>
<text transform="translate(511.0 585.4) rotate(-64) scale(0.62 1)" direction="rtl" font-family="'DejaVu Sans',sans-serif" font-weight="bold" font-size="4.8" fill="#505050" stroke="#505050" stroke-width="0.25">هفته 2 مرداد 1400</text>
<text transform="translate(516.5 585.4) rotate(-64) scale(0.62 1)" direction="rtl" font-family="'DejaVu Sans',sans-serif" font-weight="bold" font-size="4.8" fill="#505050" stroke="#505050" stroke-width="0.25">هفته 4 مرداد 1400</text>
<text transform="translate(522.0 585.4) rotate(-64) scale(0.62 1)" direction="rtl" font-family="'DejaVu Sans',sans-serif" font-weight="bold" font-size="4.8" fill="#505050" stroke="#505050" stroke-width="0.25">هفته 2 شهریور 1400</text>
<text transform="translate(527.4 585.4) rotate(-64) scale(0.62 1)" direction="rtl" font-family="'DejaVu Sans',sans-serif" font-weight="bold" font-size="4.8" fill="#505050" stroke="#505050" stroke-width="0.25">هفته 4 شهریور 1400</text>
<text transform="translate(532.9 585.4) rotate(-64) scale(0.62 1)" direction="rtl" font-family="'DejaVu Sans',sans-serif" font-weight="bold" font-size="4.8" fill="#505050" stroke="#505050" stroke-width="0.25">هفته 2 مهر 1400</text>
<text transform="translate(538.3 585.4) rotate(-64) scale(0.62 1)" direction="rtl" font-family="'DejaVu Sans',sans-serif" font-weight="bold" font-size="4.8" fill="#505050" stroke="#505050" stroke-width="0.25">هفته 4 مهر 1400</text>
<text transform="translate(543.8 585.4) rotate(-64) scale(0.62 1)" direction="rtl" font-family="'DejaVu Sans',sans-serif" font-weight="bold" font-size="4.8" fill="#505050" stroke="#505050" stroke-width="0.25">هفته 2 آبان 1400</text>
<text transform="translate(549.2 585.4) rotate(-64) scale(0.62 1)" direction="rtl" font-family="'DejaVu Sans',sans-serif" font-weight="bold" font-size="4.8" fill="#505050" stroke="#505050" stroke-width="0.25">هفته 4 آبان 1400</text>
<text transform="translate(554.6 585.4) rotate(-64) scale(0.62 1)" direction="rtl" font-family="'DejaVu Sans',sans-serif" font-weight="bold" font-size="4.8" fill="#505050" stroke="#505050" stroke-width="0.25">هفته 2 آذر 1400</text>
<text transform="translate(560.1 585.4) rotate(-64) scale(0.62 1)" direction="rtl" font-family="'DejaVu Sans',sans-serif" font-weight="bold" font-size="4.8" fill="#505050" stroke="#505050" stroke-width="0.25">هفته 4 آذر 1400</text>
<text transform="translate(565.5 585.4) rotate(-64) scale(0.62 1)" direction="rtl" font-family="'DejaVu Sans',sans-serif" font-weight="bold" font-size="4.8" fill="#505050" stroke="#505050" stroke-width="0.25">هفته 2 دی 1400</text>
<text transform="translate(571.0 585.4) rotate(-64) scale(0.62 1)" direction="rtl" font-family="'DejaVu Sans',sans-serif" font-weight="bold" font-size="4.8" fill="#505050" stroke="#505050" stroke-width="0.25">هفته 4 دی 1400</text>
<text transform="translate(576.5 585.4) rotate(-64) scale(0.62 1)" direction="rtl" font-family="'DejaVu Sans',sans-serif" font-weight="bold" font-size="4.8" fill="#505050" stroke="#505050" stroke-width="0.25">هفته 2 بهمن 1400</text>
<text transform="translate(581.9 585.4) rotate(-64) scale(0.62 1)" direction="rtl" font-family="'DejaVu Sans',sans-serif" font-weight="bold" font-size="4.8" fill="#505050" stroke="#505050" stroke-width="0.25">هفته 4 بهمن 1400</text>
<rect x="585.2" y="601" width="28.8" height="3.6" fill="#c8c8c4"/>
<rect x="585.2" y="604.6" width="28.8" height="24.4" fill="#ffff00"/>
<line x1="586.5" x2="592" y1="611.3" y2="611.3" stroke="#333" stroke-width="1"/>
<text x="613.5" y="613" direction="rtl" font-family="'DejaVu Sans',sans-serif" font-weight="bold" font-size="4.8" fill="#222" stroke="#222" stroke-width="0.15" textLength="21" lengthAdjust="spacingAndGlyphs">سیستان و بلوچستان</text>
<line x1="586.5" x2="592" y1="622.7" y2="622.7" stroke="#333" stroke-width="1"/>
<text x="602" y="624.4" direction="rtl" font-family="'DejaVu Sans',sans-serif" font-weight="bold" font-size="4.8" fill="#222" stroke="#222" stroke-width="0.15" textLength="9" lengthAdjust="spacingAndGlyphs">کل کشور</text>
</svg>
<div class="divider"></div>
<div class="t" id="t1">روند بستری و فوت استان سیستان و بلوچستان</div>
<div class="t" id="t2">روند بروز و مرگ و میر استان سیستان و بلوچستان</div>
<div class="t" id="t3">(بروز در صد هزار نفر ، مرگ و میر در یک میلیون نفر)</div>
</body></html>
